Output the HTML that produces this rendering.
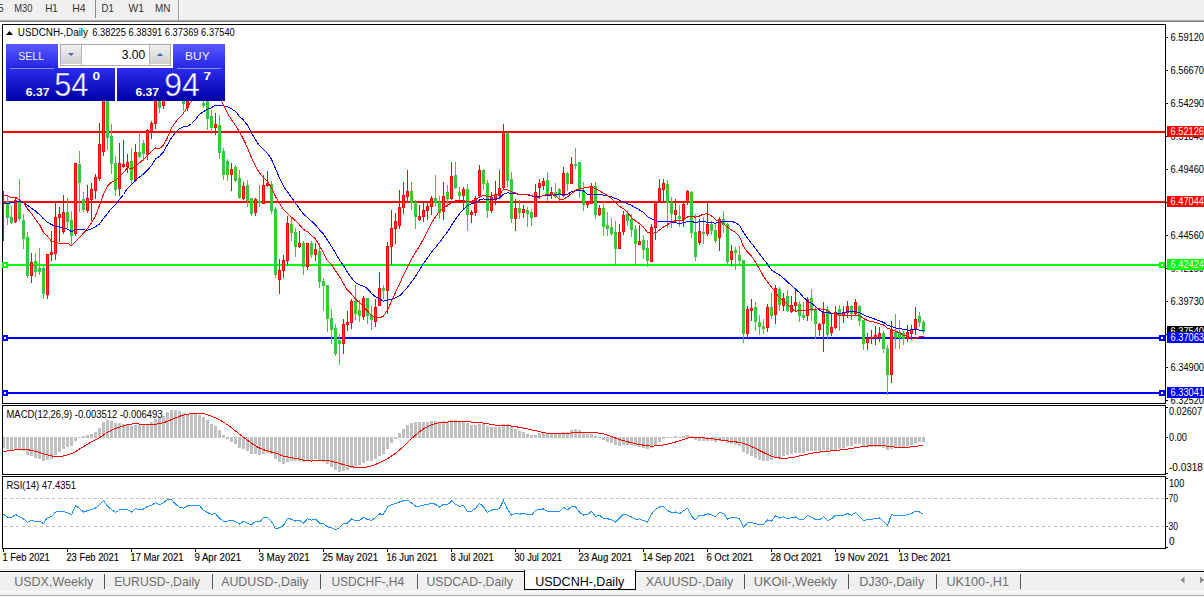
<!DOCTYPE html>
<html><head><meta charset="utf-8"><title>USDCNH-,Daily</title>
<style>
html,body{margin:0;padding:0;background:#fff;}
body{width:1204px;height:598px;overflow:hidden;position:relative;font-family:"Liberation Sans", sans-serif;}
svg{position:absolute;left:0;top:0;display:block;}
text{font-family:"Liberation Sans", sans-serif;}
</style></head><body>
<svg width="1204" height="598" viewBox="0 0 1204 598">
<defs>
<linearGradient id="gbtn" x1="0" y1="0" x2="0" y2="1"><stop offset="0" stop-color="#5b5bff"/><stop offset="1" stop-color="#2424e6"/></linearGradient>
<linearGradient id="gprice" x1="0" y1="0" x2="0" y2="1"><stop offset="0" stop-color="#2c2cee"/><stop offset="1" stop-color="#0000a8"/></linearGradient>
<linearGradient id="gspin" x1="0" y1="0" x2="0" y2="1"><stop offset="0" stop-color="#f2f2f2"/><stop offset="1" stop-color="#cfcfcf"/></linearGradient>
<pattern id="dots" width="2" height="2" patternUnits="userSpaceOnUse"><rect width="2" height="2" fill="#f7f7f7"/><rect width="1" height="1" fill="#e6e6e6"/><rect x="1" y="1" width="1" height="1" fill="#e6e6e6"/></pattern>
</defs>

<rect x="0" y="0" width="1204" height="20" fill="#f0f0f0"/>
<rect x="0" y="20" width="1204" height="1" fill="#a9a9a9"/><rect x="0" y="21" width="1204" height="1" fill="#7d7d7d"/>
<rect x="96" y="0" width="24" height="18" fill="url(#dots)"/><rect x="95" y="0" width="1" height="18" fill="#8a8a8a"/>
<rect x="178" y="0" width="1" height="20" fill="#9a9a9a"/><rect x="179" y="0" width="1" height="20" fill="#ffffff"/>
<text x="-2" y="12" font-size="10.3" fill="#333">5</text>
<text x="14.3" y="12" font-size="10.3" fill="#333" textLength="18.2" lengthAdjust="spacingAndGlyphs">M30</text>
<text x="45.2" y="12" font-size="10.3" fill="#333" textLength="12.6" lengthAdjust="spacingAndGlyphs">H1</text>
<text x="72.2" y="12" font-size="10.3" fill="#333" textLength="13.4" lengthAdjust="spacingAndGlyphs">H4</text>
<text x="101.5" y="12" font-size="10.3" fill="#333" textLength="12.4" lengthAdjust="spacingAndGlyphs">D1</text>
<text x="128.5" y="12" font-size="10.3" fill="#333" textLength="15.4" lengthAdjust="spacingAndGlyphs">W1</text>
<text x="155.1" y="12" font-size="10.3" fill="#333" textLength="15.4" lengthAdjust="spacingAndGlyphs">MN</text>
<g shape-rendering="crispEdges"><rect x="2" y="24" width="1164" height="1" fill="#000"/><rect x="2" y="403" width="1164" height="1" fill="#000"/><rect x="2" y="24" width="1" height="380" fill="#000"/><rect x="1165" y="24" width="1" height="380" fill="#000"/><rect x="2" y="405" width="1164" height="1" fill="#000"/><rect x="2" y="474" width="1164" height="1" fill="#000"/><rect x="2" y="405" width="1" height="70" fill="#000"/><rect x="1165" y="405" width="1" height="70" fill="#000"/><rect x="2" y="476" width="1164" height="1" fill="#000"/><rect x="2" y="548" width="1164" height="1" fill="#000"/><rect x="2" y="476" width="1" height="73" fill="#000"/><rect x="1165" y="476" width="1" height="73" fill="#000"/></g>
<clipPath id="cmain"><rect x="3" y="25" width="1162" height="378"/></clipPath>
<g clip-path="url(#cmain)" shape-rendering="crispEdges">
<rect x="3" y="131" width="1162" height="2" fill="#ff0000"/>
<rect x="3" y="201" width="1162" height="2" fill="#ff0000"/>
<rect x="3" y="264" width="1162" height="2" fill="#00ff00"/>
<rect x="3" y="337" width="1162" height="2" fill="#0000ff"/>
<rect x="3" y="392" width="1162" height="2" fill="#0000ff"/>
<rect x="3" y="191" width="1" height="50" fill="#ff0000"/>
<rect x="7" y="196" width="1" height="29" fill="#32cd32"/><rect x="6" y="202" width="3" height="16" fill="#32cd32"/>
<rect x="11" y="206" width="1" height="18" fill="#32cd32"/><rect x="10" y="217" width="3" height="6" fill="#32cd32"/>
<rect x="15" y="198" width="1" height="25" fill="#ff0000"/><rect x="14" y="200" width="3" height="22" fill="#ff0000"/>
<rect x="15" y="201" width="1" height="20" fill="#ff4500"/>
<rect x="19" y="179" width="1" height="42" fill="#32cd32"/><rect x="18" y="201" width="3" height="18" fill="#32cd32"/>
<rect x="23" y="214" width="1" height="35" fill="#32cd32"/><rect x="22" y="220" width="3" height="19" fill="#32cd32"/>
<rect x="27" y="232" width="1" height="46" fill="#32cd32"/><rect x="26" y="237" width="3" height="39" fill="#32cd32"/>
<rect x="31" y="253" width="1" height="30" fill="#ff0000"/><rect x="30" y="262" width="3" height="14" fill="#ff0000"/>
<rect x="31" y="263" width="1" height="12" fill="#ff4500"/>
<rect x="35" y="253" width="1" height="24" fill="#32cd32"/><rect x="34" y="261" width="3" height="11" fill="#32cd32"/>
<rect x="39" y="248" width="1" height="27" fill="#32cd32"/><rect x="38" y="268" width="3" height="4" fill="#32cd32"/>
<rect x="43" y="264" width="1" height="35" fill="#32cd32"/><rect x="42" y="268" width="3" height="26" fill="#32cd32"/>
<rect x="47" y="254" width="1" height="45" fill="#ff0000"/><rect x="46" y="254" width="3" height="41" fill="#ff0000"/>
<rect x="47" y="255" width="1" height="39" fill="#ff4500"/>
<rect x="51" y="231" width="1" height="30" fill="#ff0000"/><rect x="50" y="252" width="3" height="3" fill="#ff0000"/>
<rect x="51" y="253" width="1" height="1" fill="#ff4500"/>
<rect x="55" y="203" width="1" height="57" fill="#ff0000"/><rect x="54" y="217" width="3" height="37" fill="#ff0000"/>
<rect x="55" y="218" width="1" height="35" fill="#ff4500"/>
<rect x="59" y="207" width="1" height="35" fill="#ff0000"/><rect x="58" y="214" width="3" height="4" fill="#ff0000"/>
<rect x="59" y="215" width="1" height="2" fill="#ff4500"/>
<rect x="63" y="195" width="1" height="39" fill="#ff0000"/><rect x="62" y="212" width="3" height="20" fill="#ff0000"/>
<rect x="63" y="213" width="1" height="18" fill="#ff4500"/>
<rect x="67" y="198" width="1" height="30" fill="#32cd32"/><rect x="66" y="212" width="3" height="10" fill="#32cd32"/>
<rect x="71" y="211" width="1" height="34" fill="#32cd32"/><rect x="70" y="220" width="3" height="16" fill="#32cd32"/>
<rect x="75" y="163" width="1" height="73" fill="#ff0000"/><rect x="74" y="163" width="3" height="71" fill="#ff0000"/>
<rect x="75" y="164" width="1" height="69" fill="#ff4500"/>
<rect x="79" y="151" width="1" height="61" fill="#32cd32"/><rect x="78" y="164" width="3" height="19" fill="#32cd32"/>
<rect x="83" y="192" width="1" height="20" fill="#32cd32"/><rect x="82" y="199" width="3" height="11" fill="#32cd32"/>
<rect x="87" y="185" width="1" height="28" fill="#ff0000"/><rect x="86" y="198" width="3" height="13" fill="#ff0000"/>
<rect x="87" y="199" width="1" height="11" fill="#ff4500"/>
<rect x="91" y="183" width="1" height="38" fill="#ff0000"/><rect x="90" y="189" width="3" height="11" fill="#ff0000"/>
<rect x="91" y="190" width="1" height="9" fill="#ff4500"/>
<rect x="95" y="174" width="1" height="25" fill="#ff0000"/><rect x="94" y="177" width="3" height="14" fill="#ff0000"/>
<rect x="95" y="178" width="1" height="12" fill="#ff4500"/>
<rect x="99" y="123" width="1" height="58" fill="#ff0000"/><rect x="98" y="144" width="3" height="35" fill="#ff0000"/>
<rect x="99" y="145" width="1" height="33" fill="#ff4500"/>
<rect x="103" y="96" width="1" height="60" fill="#ff0000"/><rect x="102" y="98" width="3" height="54" fill="#ff0000"/>
<rect x="103" y="99" width="1" height="52" fill="#ff4500"/>
<rect x="107" y="92" width="1" height="58" fill="#32cd32"/><rect x="106" y="95" width="3" height="43" fill="#32cd32"/>
<rect x="111" y="124" width="1" height="50" fill="#32cd32"/><rect x="110" y="136" width="3" height="28" fill="#32cd32"/>
<rect x="115" y="156" width="1" height="40" fill="#32cd32"/><rect x="114" y="163" width="3" height="27" fill="#32cd32"/>
<rect x="119" y="143" width="1" height="53" fill="#ff0000"/><rect x="118" y="163" width="3" height="26" fill="#ff0000"/>
<rect x="119" y="164" width="1" height="24" fill="#ff4500"/>
<rect x="123" y="140" width="1" height="28" fill="#ff0000"/><rect x="122" y="164" width="3" height="3" fill="#ff0000"/>
<rect x="123" y="165" width="1" height="1" fill="#ff4500"/>
<rect x="127" y="154" width="1" height="19" fill="#ff0000"/><rect x="126" y="162" width="3" height="5" fill="#ff0000"/>
<rect x="127" y="163" width="1" height="3" fill="#ff4500"/>
<rect x="131" y="148" width="1" height="36" fill="#32cd32"/><rect x="130" y="161" width="3" height="19" fill="#32cd32"/>
<rect x="135" y="144" width="1" height="38" fill="#ff0000"/><rect x="134" y="152" width="3" height="29" fill="#ff0000"/>
<rect x="135" y="153" width="1" height="27" fill="#ff4500"/>
<rect x="139" y="132" width="1" height="26" fill="#32cd32"/><rect x="138" y="152" width="3" height="5" fill="#32cd32"/>
<rect x="143" y="140" width="1" height="21" fill="#32cd32"/><rect x="142" y="143" width="3" height="11" fill="#32cd32"/>
<rect x="147" y="129" width="1" height="31" fill="#ff0000"/><rect x="146" y="130" width="3" height="25" fill="#ff0000"/>
<rect x="147" y="131" width="1" height="23" fill="#ff4500"/>
<rect x="151" y="121" width="1" height="18" fill="#ff0000"/><rect x="150" y="123" width="3" height="9" fill="#ff0000"/>
<rect x="151" y="124" width="1" height="7" fill="#ff4500"/>
<rect x="155" y="92" width="1" height="37" fill="#ff0000"/><rect x="154" y="96" width="3" height="28" fill="#ff0000"/>
<rect x="155" y="97" width="1" height="26" fill="#ff4500"/>
<rect x="159" y="88" width="1" height="25" fill="#32cd32"/><rect x="158" y="92" width="3" height="16" fill="#32cd32"/>
<rect x="163" y="86" width="1" height="23" fill="#ff0000"/><rect x="162" y="90" width="3" height="16" fill="#ff0000"/>
<rect x="163" y="91" width="1" height="14" fill="#ff4500"/>
<rect x="167" y="50" width="1" height="43" fill="#ff0000"/><rect x="166" y="55" width="3" height="34" fill="#ff0000"/>
<rect x="167" y="56" width="1" height="32" fill="#ff4500"/>
<rect x="171" y="44" width="1" height="19" fill="#32cd32"/><rect x="170" y="48" width="3" height="8" fill="#32cd32"/>
<rect x="175" y="52" width="1" height="33" fill="#32cd32"/><rect x="174" y="56" width="3" height="24" fill="#32cd32"/>
<rect x="179" y="76" width="1" height="25" fill="#32cd32"/><rect x="178" y="80" width="3" height="21" fill="#32cd32"/>
<rect x="183" y="86" width="1" height="25" fill="#32cd32"/><rect x="182" y="90" width="3" height="14" fill="#32cd32"/>
<rect x="187" y="82" width="1" height="29" fill="#ff0000"/><rect x="186" y="86" width="3" height="22" fill="#ff0000"/>
<rect x="187" y="87" width="1" height="20" fill="#ff4500"/>
<rect x="191" y="72" width="1" height="21" fill="#ff0000"/><rect x="190" y="78" width="3" height="11" fill="#ff0000"/>
<rect x="191" y="79" width="1" height="9" fill="#ff4500"/>
<rect x="195" y="66" width="1" height="19" fill="#32cd32"/><rect x="194" y="70" width="3" height="9" fill="#32cd32"/>
<rect x="199" y="72" width="1" height="17" fill="#32cd32"/><rect x="198" y="76" width="3" height="6" fill="#32cd32"/>
<rect x="203" y="100" width="1" height="8" fill="#32cd32"/><rect x="202" y="103" width="3" height="3" fill="#32cd32"/>
<rect x="207" y="98" width="1" height="32" fill="#32cd32"/><rect x="206" y="100" width="3" height="19" fill="#32cd32"/>
<rect x="211" y="110" width="1" height="24" fill="#32cd32"/><rect x="210" y="116" width="3" height="12" fill="#32cd32"/>
<rect x="215" y="113" width="1" height="22" fill="#ff0000"/><rect x="214" y="124" width="3" height="4" fill="#ff0000"/>
<rect x="215" y="125" width="1" height="2" fill="#ff4500"/>
<rect x="219" y="115" width="1" height="44" fill="#32cd32"/><rect x="218" y="125" width="3" height="28" fill="#32cd32"/>
<rect x="223" y="148" width="1" height="32" fill="#32cd32"/><rect x="222" y="151" width="3" height="24" fill="#32cd32"/>
<rect x="227" y="159" width="1" height="22" fill="#32cd32"/><rect x="226" y="161" width="3" height="14" fill="#32cd32"/>
<rect x="231" y="163" width="1" height="28" fill="#ff0000"/><rect x="230" y="169" width="3" height="6" fill="#ff0000"/>
<rect x="231" y="170" width="1" height="4" fill="#ff4500"/>
<rect x="235" y="165" width="1" height="17" fill="#32cd32"/><rect x="234" y="167" width="3" height="14" fill="#32cd32"/>
<rect x="239" y="170" width="1" height="29" fill="#32cd32"/><rect x="238" y="178" width="3" height="20" fill="#32cd32"/>
<rect x="243" y="182" width="1" height="18" fill="#ff0000"/><rect x="242" y="186" width="3" height="13" fill="#ff0000"/>
<rect x="243" y="187" width="1" height="11" fill="#ff4500"/>
<rect x="247" y="180" width="1" height="27" fill="#32cd32"/><rect x="246" y="185" width="3" height="16" fill="#32cd32"/>
<rect x="251" y="198" width="1" height="18" fill="#32cd32"/><rect x="250" y="198" width="3" height="16" fill="#32cd32"/>
<rect x="255" y="198" width="1" height="18" fill="#ff0000"/><rect x="254" y="199" width="3" height="14" fill="#ff0000"/>
<rect x="255" y="200" width="1" height="12" fill="#ff4500"/>
<rect x="259" y="185" width="1" height="22" fill="#32cd32"/><rect x="258" y="201" width="3" height="2" fill="#32cd32"/>
<rect x="263" y="175" width="1" height="29" fill="#ff0000"/><rect x="262" y="185" width="3" height="19" fill="#ff0000"/>
<rect x="263" y="186" width="1" height="17" fill="#ff4500"/>
<rect x="267" y="171" width="1" height="16" fill="#ff0000"/><rect x="266" y="183" width="3" height="3" fill="#ff0000"/>
<rect x="267" y="184" width="1" height="1" fill="#ff4500"/>
<rect x="271" y="181" width="1" height="33" fill="#32cd32"/><rect x="270" y="184" width="3" height="27" fill="#32cd32"/>
<rect x="275" y="207" width="1" height="71" fill="#32cd32"/><rect x="274" y="209" width="3" height="66" fill="#32cd32"/>
<rect x="279" y="259" width="1" height="35" fill="#ff0000"/><rect x="278" y="270" width="3" height="10" fill="#ff0000"/>
<rect x="279" y="271" width="1" height="8" fill="#ff4500"/>
<rect x="283" y="255" width="1" height="23" fill="#ff0000"/><rect x="282" y="260" width="3" height="11" fill="#ff0000"/>
<rect x="283" y="261" width="1" height="9" fill="#ff4500"/>
<rect x="287" y="216" width="1" height="49" fill="#ff0000"/><rect x="286" y="223" width="3" height="38" fill="#ff0000"/>
<rect x="287" y="224" width="1" height="36" fill="#ff4500"/>
<rect x="291" y="218" width="1" height="23" fill="#32cd32"/><rect x="290" y="224" width="3" height="9" fill="#32cd32"/>
<rect x="295" y="228" width="1" height="29" fill="#32cd32"/><rect x="294" y="232" width="3" height="15" fill="#32cd32"/>
<rect x="299" y="231" width="1" height="17" fill="#ff0000"/><rect x="298" y="243" width="3" height="4" fill="#ff0000"/>
<rect x="299" y="244" width="1" height="2" fill="#ff4500"/>
<rect x="303" y="241" width="1" height="34" fill="#32cd32"/><rect x="302" y="243" width="3" height="24" fill="#32cd32"/>
<rect x="307" y="243" width="1" height="27" fill="#ff0000"/><rect x="306" y="243" width="3" height="24" fill="#ff0000"/>
<rect x="307" y="244" width="1" height="22" fill="#ff4500"/>
<rect x="311" y="241" width="1" height="17" fill="#32cd32"/><rect x="310" y="243" width="3" height="12" fill="#32cd32"/>
<rect x="315" y="243" width="1" height="18" fill="#ff0000"/><rect x="314" y="249" width="3" height="6" fill="#ff0000"/>
<rect x="315" y="250" width="1" height="4" fill="#ff4500"/>
<rect x="319" y="243" width="1" height="45" fill="#32cd32"/><rect x="318" y="251" width="3" height="31" fill="#32cd32"/>
<rect x="323" y="278" width="1" height="33" fill="#32cd32"/><rect x="322" y="281" width="3" height="5" fill="#32cd32"/>
<rect x="327" y="285" width="1" height="47" fill="#32cd32"/><rect x="326" y="285" width="3" height="34" fill="#32cd32"/>
<rect x="331" y="309" width="1" height="35" fill="#32cd32"/><rect x="330" y="318" width="3" height="12" fill="#32cd32"/>
<rect x="335" y="324" width="1" height="32" fill="#32cd32"/><rect x="334" y="328" width="3" height="26" fill="#32cd32"/>
<rect x="339" y="334" width="1" height="31" fill="#32cd32"/><rect x="338" y="340" width="3" height="4" fill="#32cd32"/>
<rect x="343" y="319" width="1" height="35" fill="#ff0000"/><rect x="342" y="324" width="3" height="20" fill="#ff0000"/>
<rect x="343" y="325" width="1" height="18" fill="#ff4500"/>
<rect x="347" y="311" width="1" height="20" fill="#ff0000"/><rect x="346" y="322" width="3" height="3" fill="#ff0000"/>
<rect x="347" y="323" width="1" height="1" fill="#ff4500"/>
<rect x="351" y="299" width="1" height="30" fill="#ff0000"/><rect x="350" y="301" width="3" height="22" fill="#ff0000"/>
<rect x="351" y="302" width="1" height="20" fill="#ff4500"/>
<rect x="355" y="285" width="1" height="35" fill="#32cd32"/><rect x="354" y="301" width="3" height="13" fill="#32cd32"/>
<rect x="359" y="300" width="1" height="22" fill="#32cd32"/><rect x="358" y="310" width="3" height="6" fill="#32cd32"/>
<rect x="363" y="296" width="1" height="24" fill="#ff0000"/><rect x="362" y="298" width="3" height="19" fill="#ff0000"/>
<rect x="363" y="299" width="1" height="17" fill="#ff4500"/>
<rect x="367" y="298" width="1" height="26" fill="#32cd32"/><rect x="366" y="298" width="3" height="18" fill="#32cd32"/>
<rect x="371" y="306" width="1" height="24" fill="#32cd32"/><rect x="370" y="315" width="3" height="5" fill="#32cd32"/>
<rect x="375" y="299" width="1" height="28" fill="#ff0000"/><rect x="374" y="307" width="3" height="15" fill="#ff0000"/>
<rect x="375" y="308" width="1" height="13" fill="#ff4500"/>
<rect x="379" y="272" width="1" height="34" fill="#ff0000"/><rect x="378" y="288" width="3" height="18" fill="#ff0000"/>
<rect x="379" y="289" width="1" height="16" fill="#ff4500"/>
<rect x="383" y="285" width="1" height="14" fill="#32cd32"/><rect x="382" y="288" width="3" height="3" fill="#32cd32"/>
<rect x="387" y="242" width="1" height="72" fill="#ff0000"/><rect x="386" y="246" width="3" height="45" fill="#ff0000"/>
<rect x="387" y="247" width="1" height="43" fill="#ff4500"/>
<rect x="391" y="210" width="1" height="55" fill="#ff0000"/><rect x="390" y="228" width="3" height="19" fill="#ff0000"/>
<rect x="391" y="229" width="1" height="17" fill="#ff4500"/>
<rect x="395" y="213" width="1" height="31" fill="#ff0000"/><rect x="394" y="221" width="3" height="8" fill="#ff0000"/>
<rect x="395" y="222" width="1" height="6" fill="#ff4500"/>
<rect x="399" y="190" width="1" height="39" fill="#ff0000"/><rect x="398" y="207" width="3" height="19" fill="#ff0000"/>
<rect x="399" y="208" width="1" height="17" fill="#ff4500"/>
<rect x="403" y="182" width="1" height="32" fill="#ff0000"/><rect x="402" y="195" width="3" height="13" fill="#ff0000"/>
<rect x="403" y="196" width="1" height="11" fill="#ff4500"/>
<rect x="407" y="170" width="1" height="33" fill="#ff0000"/><rect x="406" y="191" width="3" height="6" fill="#ff0000"/>
<rect x="407" y="192" width="1" height="4" fill="#ff4500"/>
<rect x="411" y="182" width="1" height="28" fill="#32cd32"/><rect x="410" y="191" width="3" height="12" fill="#32cd32"/>
<rect x="415" y="200" width="1" height="29" fill="#32cd32"/><rect x="414" y="202" width="3" height="15" fill="#32cd32"/>
<rect x="419" y="205" width="1" height="16" fill="#ff0000"/><rect x="418" y="216" width="3" height="4" fill="#ff0000"/>
<rect x="419" y="217" width="1" height="2" fill="#ff4500"/>
<rect x="423" y="203" width="1" height="19" fill="#ff0000"/><rect x="422" y="210" width="3" height="7" fill="#ff0000"/>
<rect x="423" y="211" width="1" height="5" fill="#ff4500"/>
<rect x="427" y="203" width="1" height="17" fill="#ff0000"/><rect x="426" y="206" width="3" height="5" fill="#ff0000"/>
<rect x="427" y="207" width="1" height="3" fill="#ff4500"/>
<rect x="431" y="196" width="1" height="19" fill="#ff0000"/><rect x="430" y="198" width="3" height="9" fill="#ff0000"/>
<rect x="431" y="199" width="1" height="7" fill="#ff4500"/>
<rect x="435" y="175" width="1" height="31" fill="#32cd32"/><rect x="434" y="198" width="3" height="5" fill="#32cd32"/>
<rect x="439" y="196" width="1" height="23" fill="#32cd32"/><rect x="438" y="202" width="3" height="11" fill="#32cd32"/>
<rect x="443" y="182" width="1" height="38" fill="#ff0000"/><rect x="442" y="196" width="3" height="16" fill="#ff0000"/>
<rect x="443" y="197" width="1" height="14" fill="#ff4500"/>
<rect x="447" y="185" width="1" height="22" fill="#32cd32"/><rect x="446" y="192" width="3" height="7" fill="#32cd32"/>
<rect x="451" y="162" width="1" height="38" fill="#ff0000"/><rect x="450" y="176" width="3" height="23" fill="#ff0000"/>
<rect x="451" y="177" width="1" height="21" fill="#ff4500"/>
<rect x="455" y="162" width="1" height="27" fill="#32cd32"/><rect x="454" y="175" width="3" height="13" fill="#32cd32"/>
<rect x="459" y="187" width="1" height="14" fill="#32cd32"/><rect x="458" y="192" width="3" height="4" fill="#32cd32"/>
<rect x="463" y="187" width="1" height="21" fill="#ff0000"/><rect x="462" y="189" width="3" height="7" fill="#ff0000"/>
<rect x="463" y="190" width="1" height="5" fill="#ff4500"/>
<rect x="467" y="184" width="1" height="47" fill="#32cd32"/><rect x="466" y="189" width="3" height="26" fill="#32cd32"/>
<rect x="471" y="210" width="1" height="13" fill="#ff0000"/><rect x="470" y="212" width="3" height="3" fill="#ff0000"/>
<rect x="471" y="213" width="1" height="1" fill="#ff4500"/>
<rect x="475" y="196" width="1" height="20" fill="#ff0000"/><rect x="474" y="198" width="3" height="15" fill="#ff0000"/>
<rect x="475" y="199" width="1" height="13" fill="#ff4500"/>
<rect x="479" y="165" width="1" height="32" fill="#ff0000"/><rect x="478" y="170" width="3" height="26" fill="#ff0000"/>
<rect x="479" y="171" width="1" height="24" fill="#ff4500"/>
<rect x="483" y="169" width="1" height="21" fill="#32cd32"/><rect x="482" y="170" width="3" height="14" fill="#32cd32"/>
<rect x="487" y="180" width="1" height="38" fill="#32cd32"/><rect x="486" y="183" width="3" height="28" fill="#32cd32"/>
<rect x="491" y="192" width="1" height="21" fill="#ff0000"/><rect x="490" y="197" width="3" height="14" fill="#ff0000"/>
<rect x="491" y="198" width="1" height="12" fill="#ff4500"/>
<rect x="495" y="181" width="1" height="24" fill="#ff0000"/><rect x="494" y="194" width="3" height="5" fill="#ff0000"/>
<rect x="495" y="195" width="1" height="3" fill="#ff4500"/>
<rect x="499" y="170" width="1" height="27" fill="#ff0000"/><rect x="498" y="188" width="3" height="8" fill="#ff0000"/>
<rect x="499" y="189" width="1" height="6" fill="#ff4500"/>
<rect x="503" y="124" width="1" height="66" fill="#ff0000"/><rect x="502" y="132" width="3" height="56" fill="#ff0000"/>
<rect x="503" y="133" width="1" height="54" fill="#ff4500"/>
<rect x="507" y="132" width="1" height="55" fill="#32cd32"/><rect x="506" y="133" width="3" height="48" fill="#32cd32"/>
<rect x="511" y="172" width="1" height="51" fill="#32cd32"/><rect x="510" y="179" width="3" height="40" fill="#32cd32"/>
<rect x="515" y="199" width="1" height="32" fill="#ff0000"/><rect x="514" y="208" width="3" height="11" fill="#ff0000"/>
<rect x="515" y="209" width="1" height="9" fill="#ff4500"/>
<rect x="519" y="200" width="1" height="19" fill="#32cd32"/><rect x="518" y="208" width="3" height="5" fill="#32cd32"/>
<rect x="523" y="205" width="1" height="13" fill="#ff0000"/><rect x="522" y="209" width="3" height="4" fill="#ff0000"/>
<rect x="523" y="210" width="1" height="2" fill="#ff4500"/>
<rect x="527" y="207" width="1" height="20" fill="#32cd32"/><rect x="526" y="210" width="3" height="4" fill="#32cd32"/>
<rect x="531" y="209" width="1" height="17" fill="#32cd32"/><rect x="530" y="212" width="3" height="6" fill="#32cd32"/>
<rect x="535" y="184" width="1" height="33" fill="#ff0000"/><rect x="534" y="192" width="3" height="25" fill="#ff0000"/>
<rect x="535" y="193" width="1" height="23" fill="#ff4500"/>
<rect x="539" y="179" width="1" height="20" fill="#ff0000"/><rect x="538" y="183" width="3" height="5" fill="#ff0000"/>
<rect x="539" y="184" width="1" height="3" fill="#ff4500"/>
<rect x="543" y="178" width="1" height="12" fill="#ff0000"/><rect x="542" y="181" width="3" height="5" fill="#ff0000"/>
<rect x="543" y="182" width="1" height="3" fill="#ff4500"/>
<rect x="547" y="172" width="1" height="29" fill="#32cd32"/><rect x="546" y="180" width="3" height="15" fill="#32cd32"/>
<rect x="551" y="187" width="1" height="12" fill="#ff0000"/><rect x="550" y="192" width="3" height="3" fill="#ff0000"/>
<rect x="551" y="193" width="1" height="1" fill="#ff4500"/>
<rect x="555" y="183" width="1" height="15" fill="#32cd32"/><rect x="554" y="192" width="3" height="5" fill="#32cd32"/>
<rect x="559" y="188" width="1" height="13" fill="#32cd32"/><rect x="558" y="189" width="3" height="6" fill="#32cd32"/>
<rect x="563" y="167" width="1" height="30" fill="#ff0000"/><rect x="562" y="173" width="3" height="23" fill="#ff0000"/>
<rect x="563" y="174" width="1" height="21" fill="#ff4500"/>
<rect x="567" y="172" width="1" height="19" fill="#32cd32"/><rect x="566" y="173" width="3" height="11" fill="#32cd32"/>
<rect x="571" y="157" width="1" height="27" fill="#ff0000"/><rect x="570" y="164" width="3" height="20" fill="#ff0000"/>
<rect x="571" y="165" width="1" height="18" fill="#ff4500"/>
<rect x="575" y="148" width="1" height="21" fill="#32cd32"/><rect x="574" y="164" width="3" height="2" fill="#32cd32"/>
<rect x="579" y="162" width="1" height="36" fill="#32cd32"/><rect x="578" y="162" width="3" height="29" fill="#32cd32"/>
<rect x="583" y="182" width="1" height="29" fill="#32cd32"/><rect x="582" y="190" width="3" height="15" fill="#32cd32"/>
<rect x="587" y="201" width="1" height="7" fill="#ff0000"/><rect x="586" y="202" width="3" height="3" fill="#ff0000"/>
<rect x="587" y="203" width="1" height="1" fill="#ff4500"/>
<rect x="591" y="183" width="1" height="21" fill="#ff0000"/><rect x="590" y="186" width="3" height="18" fill="#ff0000"/>
<rect x="591" y="187" width="1" height="16" fill="#ff4500"/>
<rect x="595" y="182" width="1" height="37" fill="#32cd32"/><rect x="594" y="186" width="3" height="29" fill="#32cd32"/>
<rect x="599" y="205" width="1" height="11" fill="#ff0000"/><rect x="598" y="208" width="3" height="7" fill="#ff0000"/>
<rect x="599" y="209" width="1" height="5" fill="#ff4500"/>
<rect x="603" y="201" width="1" height="35" fill="#32cd32"/><rect x="602" y="208" width="3" height="19" fill="#32cd32"/>
<rect x="607" y="212" width="1" height="24" fill="#32cd32"/><rect x="606" y="225" width="3" height="4" fill="#32cd32"/>
<rect x="611" y="218" width="1" height="18" fill="#32cd32"/><rect x="610" y="227" width="3" height="7" fill="#32cd32"/>
<rect x="615" y="221" width="1" height="45" fill="#32cd32"/><rect x="614" y="232" width="3" height="17" fill="#32cd32"/>
<rect x="619" y="224" width="1" height="25" fill="#ff0000"/><rect x="618" y="232" width="3" height="17" fill="#ff0000"/>
<rect x="619" y="233" width="1" height="15" fill="#ff4500"/>
<rect x="623" y="211" width="1" height="24" fill="#ff0000"/><rect x="622" y="215" width="3" height="17" fill="#ff0000"/>
<rect x="623" y="216" width="1" height="15" fill="#ff4500"/>
<rect x="627" y="210" width="1" height="16" fill="#32cd32"/><rect x="626" y="214" width="3" height="7" fill="#32cd32"/>
<rect x="631" y="214" width="1" height="23" fill="#32cd32"/><rect x="630" y="219" width="3" height="11" fill="#32cd32"/>
<rect x="635" y="225" width="1" height="41" fill="#32cd32"/><rect x="634" y="229" width="3" height="15" fill="#32cd32"/>
<rect x="639" y="225" width="1" height="20" fill="#ff0000"/><rect x="638" y="241" width="3" height="4" fill="#ff0000"/>
<rect x="639" y="242" width="1" height="2" fill="#ff4500"/>
<rect x="643" y="235" width="1" height="24" fill="#32cd32"/><rect x="642" y="240" width="3" height="10" fill="#32cd32"/>
<rect x="647" y="240" width="1" height="27" fill="#32cd32"/><rect x="646" y="248" width="3" height="13" fill="#32cd32"/>
<rect x="651" y="224" width="1" height="38" fill="#ff0000"/><rect x="650" y="227" width="3" height="35" fill="#ff0000"/>
<rect x="651" y="228" width="1" height="33" fill="#ff4500"/>
<rect x="655" y="201" width="1" height="39" fill="#ff0000"/><rect x="654" y="202" width="3" height="26" fill="#ff0000"/>
<rect x="655" y="203" width="1" height="24" fill="#ff4500"/>
<rect x="659" y="179" width="1" height="24" fill="#ff0000"/><rect x="658" y="188" width="3" height="13" fill="#ff0000"/>
<rect x="659" y="189" width="1" height="11" fill="#ff4500"/>
<rect x="663" y="179" width="1" height="23" fill="#ff0000"/><rect x="662" y="183" width="3" height="7" fill="#ff0000"/>
<rect x="663" y="184" width="1" height="5" fill="#ff4500"/>
<rect x="667" y="180" width="1" height="48" fill="#32cd32"/><rect x="666" y="184" width="3" height="19" fill="#32cd32"/>
<rect x="671" y="197" width="1" height="31" fill="#32cd32"/><rect x="670" y="202" width="3" height="12" fill="#32cd32"/>
<rect x="675" y="199" width="1" height="24" fill="#ff0000"/><rect x="674" y="210" width="3" height="5" fill="#ff0000"/>
<rect x="675" y="211" width="1" height="3" fill="#ff4500"/>
<rect x="679" y="205" width="1" height="22" fill="#32cd32"/><rect x="678" y="216" width="3" height="3" fill="#32cd32"/>
<rect x="683" y="203" width="1" height="24" fill="#ff0000"/><rect x="682" y="204" width="3" height="15" fill="#ff0000"/>
<rect x="683" y="205" width="1" height="13" fill="#ff4500"/>
<rect x="687" y="190" width="1" height="15" fill="#ff0000"/><rect x="686" y="191" width="3" height="12" fill="#ff0000"/>
<rect x="687" y="192" width="1" height="10" fill="#ff4500"/>
<rect x="691" y="191" width="1" height="47" fill="#32cd32"/><rect x="690" y="192" width="3" height="41" fill="#32cd32"/>
<rect x="695" y="214" width="1" height="47" fill="#32cd32"/><rect x="694" y="232" width="3" height="25" fill="#32cd32"/>
<rect x="699" y="219" width="1" height="26" fill="#ff0000"/><rect x="698" y="231" width="3" height="12" fill="#ff0000"/>
<rect x="699" y="232" width="1" height="10" fill="#ff4500"/>
<rect x="703" y="217" width="1" height="27" fill="#32cd32"/><rect x="702" y="232" width="3" height="2" fill="#32cd32"/>
<rect x="707" y="202" width="1" height="34" fill="#ff0000"/><rect x="706" y="224" width="3" height="10" fill="#ff0000"/>
<rect x="707" y="225" width="1" height="8" fill="#ff4500"/>
<rect x="711" y="221" width="1" height="14" fill="#32cd32"/><rect x="710" y="224" width="3" height="7" fill="#32cd32"/>
<rect x="715" y="223" width="1" height="20" fill="#32cd32"/><rect x="714" y="230" width="3" height="11" fill="#32cd32"/>
<rect x="719" y="217" width="1" height="34" fill="#ff0000"/><rect x="718" y="219" width="3" height="19" fill="#ff0000"/>
<rect x="719" y="220" width="1" height="17" fill="#ff4500"/>
<rect x="723" y="211" width="1" height="22" fill="#32cd32"/><rect x="722" y="219" width="3" height="6" fill="#32cd32"/>
<rect x="727" y="223" width="1" height="42" fill="#32cd32"/><rect x="726" y="224" width="3" height="38" fill="#32cd32"/>
<rect x="731" y="245" width="1" height="21" fill="#ff0000"/><rect x="730" y="251" width="3" height="9" fill="#ff0000"/>
<rect x="731" y="252" width="1" height="7" fill="#ff4500"/>
<rect x="735" y="247" width="1" height="23" fill="#32cd32"/><rect x="734" y="250" width="3" height="3" fill="#32cd32"/>
<rect x="739" y="246" width="1" height="20" fill="#32cd32"/><rect x="738" y="255" width="3" height="6" fill="#32cd32"/>
<rect x="743" y="260" width="1" height="83" fill="#32cd32"/><rect x="742" y="260" width="3" height="74" fill="#32cd32"/>
<rect x="747" y="306" width="1" height="31" fill="#ff0000"/><rect x="746" y="309" width="3" height="25" fill="#ff0000"/>
<rect x="747" y="310" width="1" height="23" fill="#ff4500"/>
<rect x="751" y="299" width="1" height="22" fill="#ff0000"/><rect x="750" y="308" width="3" height="3" fill="#ff0000"/>
<rect x="751" y="309" width="1" height="1" fill="#ff4500"/>
<rect x="755" y="302" width="1" height="29" fill="#32cd32"/><rect x="754" y="307" width="3" height="15" fill="#32cd32"/>
<rect x="759" y="315" width="1" height="20" fill="#32cd32"/><rect x="758" y="322" width="3" height="5" fill="#32cd32"/>
<rect x="763" y="319" width="1" height="15" fill="#32cd32"/><rect x="762" y="326" width="3" height="3" fill="#32cd32"/>
<rect x="767" y="304" width="1" height="28" fill="#ff0000"/><rect x="766" y="307" width="3" height="21" fill="#ff0000"/>
<rect x="767" y="308" width="1" height="19" fill="#ff4500"/>
<rect x="771" y="293" width="1" height="26" fill="#32cd32"/><rect x="770" y="307" width="3" height="9" fill="#32cd32"/>
<rect x="775" y="285" width="1" height="39" fill="#ff0000"/><rect x="774" y="288" width="3" height="27" fill="#ff0000"/>
<rect x="775" y="289" width="1" height="25" fill="#ff4500"/>
<rect x="779" y="287" width="1" height="24" fill="#32cd32"/><rect x="778" y="289" width="3" height="16" fill="#32cd32"/>
<rect x="783" y="293" width="1" height="18" fill="#ff0000"/><rect x="782" y="298" width="3" height="8" fill="#ff0000"/>
<rect x="783" y="299" width="1" height="6" fill="#ff4500"/>
<rect x="787" y="290" width="1" height="22" fill="#32cd32"/><rect x="786" y="296" width="3" height="15" fill="#32cd32"/>
<rect x="791" y="296" width="1" height="17" fill="#ff0000"/><rect x="790" y="305" width="3" height="7" fill="#ff0000"/>
<rect x="791" y="306" width="1" height="5" fill="#ff4500"/>
<rect x="795" y="289" width="1" height="23" fill="#ff0000"/><rect x="794" y="302" width="3" height="4" fill="#ff0000"/>
<rect x="795" y="303" width="1" height="2" fill="#ff4500"/>
<rect x="799" y="301" width="1" height="21" fill="#32cd32"/><rect x="798" y="304" width="3" height="12" fill="#32cd32"/>
<rect x="803" y="302" width="1" height="18" fill="#32cd32"/><rect x="802" y="315" width="3" height="3" fill="#32cd32"/>
<rect x="807" y="297" width="1" height="24" fill="#ff0000"/><rect x="806" y="299" width="3" height="17" fill="#ff0000"/>
<rect x="807" y="300" width="1" height="15" fill="#ff4500"/>
<rect x="811" y="289" width="1" height="32" fill="#32cd32"/><rect x="810" y="298" width="3" height="13" fill="#32cd32"/>
<rect x="815" y="307" width="1" height="32" fill="#32cd32"/><rect x="814" y="309" width="3" height="15" fill="#32cd32"/>
<rect x="819" y="323" width="1" height="13" fill="#ff0000"/><rect x="818" y="324" width="3" height="6" fill="#ff0000"/>
<rect x="819" y="325" width="1" height="4" fill="#ff4500"/>
<rect x="823" y="302" width="1" height="50" fill="#ff0000"/><rect x="822" y="312" width="3" height="12" fill="#ff0000"/>
<rect x="823" y="313" width="1" height="10" fill="#ff4500"/>
<rect x="827" y="306" width="1" height="33" fill="#32cd32"/><rect x="826" y="309" width="3" height="26" fill="#32cd32"/>
<rect x="831" y="314" width="1" height="22" fill="#ff0000"/><rect x="830" y="327" width="3" height="6" fill="#ff0000"/>
<rect x="831" y="328" width="1" height="4" fill="#ff4500"/>
<rect x="835" y="306" width="1" height="23" fill="#ff0000"/><rect x="834" y="312" width="3" height="16" fill="#ff0000"/>
<rect x="835" y="313" width="1" height="14" fill="#ff4500"/>
<rect x="839" y="305" width="1" height="26" fill="#32cd32"/><rect x="838" y="309" width="3" height="7" fill="#32cd32"/>
<rect x="843" y="306" width="1" height="17" fill="#ff0000"/><rect x="842" y="312" width="3" height="4" fill="#ff0000"/>
<rect x="843" y="313" width="1" height="2" fill="#ff4500"/>
<rect x="847" y="301" width="1" height="17" fill="#ff0000"/><rect x="846" y="306" width="3" height="7" fill="#ff0000"/>
<rect x="847" y="307" width="1" height="5" fill="#ff4500"/>
<rect x="851" y="305" width="1" height="15" fill="#32cd32"/><rect x="850" y="306" width="3" height="8" fill="#32cd32"/>
<rect x="855" y="299" width="1" height="17" fill="#ff0000"/><rect x="854" y="302" width="3" height="12" fill="#ff0000"/>
<rect x="855" y="303" width="1" height="10" fill="#ff4500"/>
<rect x="859" y="305" width="1" height="21" fill="#32cd32"/><rect x="858" y="306" width="3" height="15" fill="#32cd32"/>
<rect x="863" y="320" width="1" height="30" fill="#32cd32"/><rect x="862" y="320" width="3" height="24" fill="#32cd32"/>
<rect x="867" y="333" width="1" height="17" fill="#ff0000"/><rect x="866" y="338" width="3" height="5" fill="#ff0000"/>
<rect x="867" y="339" width="1" height="3" fill="#ff4500"/>
<rect x="871" y="330" width="1" height="14" fill="#ff0000"/><rect x="870" y="337" width="3" height="2" fill="#ff0000"/>
<rect x="875" y="326" width="1" height="19" fill="#ff0000"/><rect x="874" y="335" width="3" height="3" fill="#ff0000"/>
<rect x="875" y="336" width="1" height="1" fill="#ff4500"/>
<rect x="879" y="327" width="1" height="15" fill="#ff0000"/><rect x="878" y="333" width="3" height="5" fill="#ff0000"/>
<rect x="879" y="334" width="1" height="3" fill="#ff4500"/>
<rect x="883" y="331" width="1" height="22" fill="#32cd32"/><rect x="882" y="333" width="3" height="16" fill="#32cd32"/>
<rect x="887" y="345" width="1" height="50" fill="#32cd32"/><rect x="886" y="348" width="3" height="27" fill="#32cd32"/>
<rect x="891" y="321" width="1" height="62" fill="#ff0000"/><rect x="890" y="330" width="3" height="45" fill="#ff0000"/>
<rect x="891" y="331" width="1" height="43" fill="#ff4500"/>
<rect x="895" y="314" width="1" height="35" fill="#32cd32"/><rect x="894" y="332" width="3" height="6" fill="#32cd32"/>
<rect x="899" y="320" width="1" height="29" fill="#32cd32"/><rect x="898" y="332" width="3" height="6" fill="#32cd32"/>
<rect x="903" y="331" width="1" height="14" fill="#32cd32"/><rect x="902" y="333" width="3" height="6" fill="#32cd32"/>
<rect x="907" y="325" width="1" height="17" fill="#ff0000"/><rect x="906" y="332" width="3" height="7" fill="#ff0000"/>
<rect x="907" y="333" width="1" height="5" fill="#ff4500"/>
<rect x="911" y="325" width="1" height="15" fill="#ff0000"/><rect x="910" y="329" width="3" height="5" fill="#ff0000"/>
<rect x="911" y="330" width="1" height="3" fill="#ff4500"/>
<rect x="915" y="307" width="1" height="28" fill="#ff0000"/><rect x="914" y="319" width="3" height="10" fill="#ff0000"/>
<rect x="915" y="320" width="1" height="8" fill="#ff4500"/>
<rect x="919" y="312" width="1" height="15" fill="#32cd32"/><rect x="918" y="316" width="3" height="7" fill="#32cd32"/>
<rect x="923" y="320" width="1" height="15" fill="#32cd32"/><rect x="922" y="322" width="3" height="10" fill="#32cd32"/>
</g>
<polyline clip-path="url(#cmain)" points="3.5,203.80 7.5,203.53 11.5,202.65 15.5,201.96 19.5,201.28 23.5,202.79 27.5,205.22 31.5,208.26 35.5,210.89 39.5,214.75 43.5,218.81 47.5,222.26 51.5,224.56 55.5,226.25 59.5,226.75 63.5,228.20 67.5,229.03 71.5,231.57 75.5,229.64 79.5,229.67 83.5,229.93 87.5,230.21 91.5,228.88 95.5,226.74 99.5,224.07 103.5,218.36 107.5,213.55 111.5,208.21 115.5,204.74 119.5,199.60 123.5,194.50 127.5,188.26 131.5,184.69 135.5,179.93 139.5,177.02 143.5,174.12 147.5,170.21 151.5,165.55 155.5,158.93 159.5,156.26 163.5,151.88 167.5,144.55 171.5,137.74 175.5,132.50 179.5,128.83 183.5,126.88 187.5,126.31 191.5,123.50 195.5,119.45 199.5,114.31 203.5,111.55 207.5,109.36 211.5,107.69 215.5,105.07 219.5,105.07 223.5,105.93 227.5,106.93 231.5,108.79 235.5,111.50 239.5,116.31 243.5,120.07 247.5,125.31 251.5,132.83 255.5,139.69 259.5,145.55 263.5,149.60 267.5,153.40 271.5,159.31 275.5,168.64 279.5,177.79 283.5,186.31 287.5,191.93 291.5,197.36 295.5,203.02 299.5,208.69 303.5,214.12 307.5,217.40 311.5,221.21 315.5,225.02 319.5,229.83 323.5,234.02 327.5,240.31 331.5,246.45 335.5,253.12 339.5,259.98 343.5,265.79 347.5,272.31 351.5,277.93 355.5,282.83 359.5,284.79 363.5,286.12 367.5,288.74 371.5,293.31 375.5,296.88 379.5,298.88 383.5,301.12 387.5,300.17 391.5,299.45 395.5,297.88 399.5,295.88 403.5,291.79 407.5,287.31 411.5,281.79 415.5,276.40 419.5,269.88 423.5,263.55 427.5,257.93 431.5,252.02 435.5,247.31 439.5,242.50 443.5,236.83 447.5,232.07 451.5,225.45 455.5,219.17 459.5,213.83 463.5,209.12 467.5,205.50 471.5,203.88 475.5,202.45 479.5,200.02 483.5,198.88 487.5,199.60 491.5,199.88 495.5,199.50 499.5,198.17 503.5,194.17 507.5,192.74 511.5,193.31 515.5,193.79 519.5,194.26 523.5,194.12 527.5,194.93 531.5,195.83 535.5,196.60 539.5,196.40 543.5,195.74 547.5,195.98 551.5,194.93 555.5,194.17 559.5,193.98 563.5,194.12 567.5,194.12 571.5,191.93 575.5,190.40 579.5,190.21 583.5,190.98 587.5,194.31 591.5,194.60 595.5,194.40 599.5,194.40 603.5,195.07 607.5,195.98 611.5,196.93 615.5,198.40 619.5,200.31 623.5,201.83 627.5,203.69 631.5,205.36 635.5,207.79 639.5,209.93 643.5,212.55 647.5,216.69 651.5,218.79 655.5,220.60 659.5,221.69 663.5,221.36 667.5,221.26 671.5,221.79 675.5,222.93 679.5,223.12 683.5,222.93 687.5,221.26 691.5,221.45 695.5,222.55 699.5,221.74 703.5,221.79 707.5,222.21 711.5,222.69 715.5,223.21 719.5,222.07 723.5,221.26 727.5,221.83 731.5,221.40 735.5,222.60 739.5,225.36 743.5,232.26 747.5,238.26 751.5,243.31 755.5,248.45 759.5,253.98 763.5,259.21 767.5,264.12 771.5,270.02 775.5,272.69 779.5,274.98 783.5,278.17 787.5,281.83 791.5,285.69 795.5,289.12 799.5,292.69 803.5,297.36 807.5,300.93 811.5,303.26 815.5,306.69 819.5,310.12 823.5,312.60 827.5,312.64 831.5,313.50 835.5,313.69 839.5,313.40 843.5,312.74 847.5,311.69 851.5,311.98 855.5,311.36 859.5,312.88 863.5,314.74 867.5,316.64 871.5,317.93 875.5,319.36 879.5,320.83 883.5,322.40 887.5,325.12 891.5,326.60 895.5,327.88 899.5,328.55 903.5,329.21 907.5,330.17 911.5,329.93 915.5,329.55 919.5,330.02 923.5,330.79" fill="none" stroke="#0000ff" stroke-width="1" shape-rendering="crispEdges"/>
<polyline clip-path="url(#cmain)" points="3.5,195.57 7.5,195.65 11.5,197.95 15.5,197.40 19.5,200.00 23.5,202.45 27.5,209.13 31.5,213.30 35.5,219.69 39.5,224.50 43.5,232.47 47.5,236.07 51.5,241.11 55.5,242.07 59.5,243.64 63.5,243.29 67.5,243.21 71.5,245.71 75.5,241.79 79.5,237.79 83.5,233.07 87.5,228.50 91.5,222.64 95.5,215.93 99.5,205.29 103.5,194.14 107.5,185.93 111.5,182.07 115.5,180.29 119.5,176.79 123.5,172.71 127.5,167.50 131.5,168.64 135.5,166.50 139.5,162.71 143.5,159.50 147.5,155.29 151.5,151.43 155.5,148.00 159.5,148.64 163.5,145.29 167.5,137.57 171.5,128.00 175.5,122.00 179.5,117.43 183.5,113.21 187.5,106.57 191.5,101.29 195.5,95.71 199.5,90.57 203.5,88.79 207.5,88.43 211.5,90.64 215.5,91.86 219.5,96.29 223.5,104.79 227.5,113.29 231.5,119.71 235.5,125.43 239.5,132.14 243.5,139.29 247.5,148.00 251.5,157.64 255.5,166.07 259.5,173.00 263.5,177.79 267.5,181.79 271.5,187.93 275.5,196.64 279.5,203.50 283.5,209.64 287.5,213.50 291.5,217.21 295.5,220.71 299.5,224.79 303.5,229.50 307.5,231.64 311.5,235.57 315.5,238.93 319.5,245.79 323.5,253.07 327.5,260.79 331.5,264.71 335.5,270.64 339.5,276.57 343.5,283.79 347.5,290.21 351.5,294.14 355.5,299.14 359.5,302.64 363.5,306.57 367.5,310.93 371.5,315.93 375.5,317.79 379.5,318.00 383.5,316.00 387.5,310.07 391.5,301.14 395.5,292.43 399.5,284.07 403.5,275.00 407.5,267.14 411.5,259.21 415.5,252.14 419.5,246.29 423.5,238.79 427.5,230.71 431.5,222.93 435.5,216.79 439.5,211.21 443.5,207.64 447.5,205.50 451.5,202.29 455.5,200.86 459.5,200.86 463.5,200.71 467.5,201.57 471.5,201.29 475.5,200.00 479.5,197.14 483.5,195.50 487.5,196.36 491.5,196.00 495.5,194.71 499.5,194.14 503.5,189.43 507.5,189.71 511.5,191.93 515.5,192.86 519.5,194.50 523.5,194.14 527.5,194.21 531.5,195.57 535.5,197.14 539.5,197.14 543.5,195.07 547.5,194.86 551.5,194.71 555.5,195.29 559.5,199.71 563.5,199.21 567.5,196.71 571.5,193.57 575.5,190.21 579.5,188.86 583.5,188.21 587.5,187.14 591.5,186.71 595.5,188.93 599.5,190.86 603.5,193.14 607.5,195.71 611.5,198.36 615.5,202.21 619.5,206.43 623.5,208.71 627.5,212.71 631.5,217.29 635.5,221.07 639.5,223.71 643.5,227.07 647.5,232.36 651.5,233.29 655.5,232.86 659.5,230.14 663.5,226.93 667.5,224.71 671.5,222.21 675.5,220.64 679.5,220.86 683.5,219.71 687.5,217.00 691.5,216.21 695.5,217.29 699.5,216.00 703.5,214.07 707.5,213.86 711.5,215.86 715.5,219.57 719.5,222.14 723.5,223.71 727.5,227.14 731.5,230.07 735.5,232.50 739.5,236.50 743.5,246.64 747.5,252.14 751.5,255.86 755.5,262.29 759.5,268.93 763.5,276.36 767.5,281.86 771.5,287.21 775.5,292.14 779.5,297.86 783.5,300.50 787.5,304.71 791.5,308.50 795.5,311.50 799.5,310.21 803.5,310.79 807.5,310.14 811.5,309.36 815.5,309.14 819.5,308.86 823.5,309.21 827.5,310.57 831.5,313.36 835.5,313.93 839.5,315.14 843.5,315.29 847.5,315.36 851.5,316.14 855.5,315.21 859.5,315.43 863.5,318.57 867.5,320.57 871.5,321.57 875.5,322.36 879.5,323.86 883.5,324.86 887.5,328.21 891.5,329.50 895.5,331.07 899.5,332.86 903.5,335.14 907.5,336.50 911.5,338.43 915.5,338.36 919.5,336.86 923.5,336.36" fill="none" stroke="#ff0000" stroke-width="1" shape-rendering="crispEdges"/>
<g shape-rendering="crispEdges">
<rect x="2" y="262" width="6" height="6" fill="#00ff00"/><rect x="4" y="264" width="2" height="2" fill="#fff"/>
<rect x="1159" y="262" width="6" height="6" fill="#00ff00"/><rect x="1161" y="264" width="2" height="2" fill="#fff"/>
<rect x="2" y="335" width="6" height="6" fill="#0000ff"/><rect x="4" y="337" width="2" height="2" fill="#fff"/>
<rect x="1159" y="335" width="6" height="6" fill="#0000ff"/><rect x="1161" y="337" width="2" height="2" fill="#fff"/>
<rect x="2" y="390" width="6" height="6" fill="#0000ff"/><rect x="4" y="392" width="2" height="2" fill="#fff"/>
<rect x="1159" y="390" width="6" height="6" fill="#0000ff"/><rect x="1161" y="392" width="2" height="2" fill="#fff"/>
</g>
<g shape-rendering="crispEdges">
<rect x="1166" y="37" width="2" height="1" fill="#000"/>
<rect x="1166" y="70" width="2" height="1" fill="#000"/>
<rect x="1166" y="103" width="2" height="1" fill="#000"/>
<rect x="1166" y="136" width="2" height="1" fill="#000"/>
<rect x="1166" y="169" width="2" height="1" fill="#000"/>
<rect x="1166" y="202" width="2" height="1" fill="#000"/>
<rect x="1166" y="235" width="2" height="1" fill="#000"/>
<rect x="1166" y="268" width="2" height="1" fill="#000"/>
<rect x="1166" y="301" width="2" height="1" fill="#000"/>
<rect x="1166" y="334" width="2" height="1" fill="#000"/>
<rect x="1166" y="367" width="2" height="1" fill="#000"/>
<rect x="1166" y="400" width="2" height="1" fill="#000"/>
</g>
<text x="1170.5" y="41" font-size="10.0" fill="#000" textLength="33.5" lengthAdjust="spacingAndGlyphs">6.59120</text>
<text x="1170.5" y="74" font-size="10.0" fill="#000" textLength="33.5" lengthAdjust="spacingAndGlyphs">6.56670</text>
<text x="1170.5" y="107" font-size="10.0" fill="#000" textLength="33.5" lengthAdjust="spacingAndGlyphs">6.54290</text>
<text x="1170.5" y="140" font-size="10.0" fill="#000" textLength="33.5" lengthAdjust="spacingAndGlyphs">6.51840</text>
<text x="1170.5" y="173" font-size="10.0" fill="#000" textLength="33.5" lengthAdjust="spacingAndGlyphs">6.49460</text>
<text x="1170.5" y="206" font-size="10.0" fill="#000" textLength="33.5" lengthAdjust="spacingAndGlyphs">6.47010</text>
<text x="1170.5" y="239" font-size="10.0" fill="#000" textLength="33.5" lengthAdjust="spacingAndGlyphs">6.44560</text>
<text x="1170.5" y="272" font-size="10.0" fill="#000" textLength="33.5" lengthAdjust="spacingAndGlyphs">6.42180</text>
<text x="1170.5" y="305" font-size="10.0" fill="#000" textLength="33.5" lengthAdjust="spacingAndGlyphs">6.39730</text>
<text x="1170.5" y="338" font-size="10.0" fill="#000" textLength="33.5" lengthAdjust="spacingAndGlyphs">6.37350</text>
<text x="1170.5" y="371" font-size="10.0" fill="#000" textLength="33.5" lengthAdjust="spacingAndGlyphs">6.34900</text>
<text x="1170.5" y="404" font-size="10.0" fill="#000" textLength="33.5" lengthAdjust="spacingAndGlyphs">6.32520</text>
<rect x="1167" y="126" width="40" height="11" fill="#ff0000" shape-rendering="crispEdges"/><text x="1170.5" y="135" font-size="10.0" fill="#fff" textLength="33.5" lengthAdjust="spacingAndGlyphs">6.52126</text>
<rect x="1167" y="196" width="40" height="11" fill="#ff0000" shape-rendering="crispEdges"/><text x="1170.5" y="205" font-size="10.0" fill="#fff" textLength="33.5" lengthAdjust="spacingAndGlyphs">6.47044</text>
<rect x="1167" y="259" width="40" height="11" fill="#00ff00" shape-rendering="crispEdges"/><text x="1170.5" y="268" font-size="10.0" fill="#fff" textLength="33.5" lengthAdjust="spacingAndGlyphs">6.42424</text>
<rect x="1167" y="326" width="40" height="11" fill="#000000" shape-rendering="crispEdges"/><text x="1170.5" y="335" font-size="10.0" fill="#fff" textLength="33.5" lengthAdjust="spacingAndGlyphs">6.37540</text>
<rect x="1167" y="332" width="40" height="11" fill="#0000ff" shape-rendering="crispEdges"/><text x="1170.5" y="341" font-size="10.0" fill="#fff" textLength="33.5" lengthAdjust="spacingAndGlyphs">6.37063</text>
<rect x="1167" y="387" width="40" height="11" fill="#0000ff" shape-rendering="crispEdges"/><text x="1170.5" y="396" font-size="10.0" fill="#fff" textLength="33.5" lengthAdjust="spacingAndGlyphs">6.33041</text>
<path d="M6,35 L13,35 L9.5,31 Z" fill="#000"/>
<text x="17.8" y="36" font-size="10.0" fill="#000" textLength="70.2" lengthAdjust="spacingAndGlyphs">USDCNH-,Daily</text>
<text x="92.3" y="36" font-size="10.0" fill="#000" textLength="142.5" lengthAdjust="spacingAndGlyphs">6.38225 6.38391 6.37369 6.37540</text>
<g shape-rendering="crispEdges">
<rect x="6" y="44" width="219" height="57" fill="#fff"/>
<rect x="6" y="44" width="52" height="25" fill="url(#gbtn)"/>
<rect x="173" y="44" width="52" height="25" fill="url(#gbtn)"/>
<rect x="6" y="68" width="109" height="33" fill="url(#gprice)"/>
<rect x="117" y="68" width="108" height="33" fill="url(#gprice)"/>
<rect x="6" y="44" width="52" height="24" fill="url(#gbtn)"/>
<rect x="10" y="68" width="44" height="1" fill="#8c8cff"/><rect x="177" y="68" width="44" height="1" fill="#8c8cff"/>
<rect x="60" y="44" width="111" height="22" fill="#a8a8a8"/><rect x="61" y="45" width="109" height="20" fill="#fff"/>
<rect x="61" y="45" width="20" height="19" fill="url(#gspin)"/><rect x="81" y="45" width="1" height="20" fill="#b8b8b8"/>
<rect x="150" y="45" width="20" height="19" fill="url(#gspin)"/><rect x="149" y="45" width="1" height="20" fill="#b8b8b8"/>
</g>
<path d="M68,53 L74,53 L71,56 Z" fill="#4a5fb8"/><path d="M157,56 L163,56 L160,53 Z" fill="#4a5fb8"/>
<text x="121.8" y="59" font-size="12" fill="#000" textLength="23.5" lengthAdjust="spacingAndGlyphs">3.00</text>
<text x="18.2" y="60" font-size="11.2" fill="#f0f0ff" textLength="26" lengthAdjust="spacingAndGlyphs">SELL</text>
<text x="185.1" y="60" font-size="11.2" fill="#f0f0ff" textLength="24.5" lengthAdjust="spacingAndGlyphs">BUY</text>
<text x="25.8" y="95.5" font-size="11.2" fill="#fff" font-weight="bold" textLength="23.6" lengthAdjust="spacingAndGlyphs">6.37</text>
<text x="54.2" y="96" font-size="33" fill="#fff" textLength="34.2" lengthAdjust="spacingAndGlyphs" stroke="#1616d8" stroke-width="0.45">54</text>
<text x="92.6" y="80" font-size="11.2" fill="#fff" font-weight="bold" textLength="7.6" lengthAdjust="spacingAndGlyphs">0</text>
<text x="135.5" y="95.5" font-size="11.2" fill="#fff" font-weight="bold" textLength="23.6" lengthAdjust="spacingAndGlyphs">6.37</text>
<text x="164.2" y="96" font-size="33" fill="#fff" textLength="35.5" lengthAdjust="spacingAndGlyphs" stroke="#1616d8" stroke-width="0.45">94</text>
<text x="203.6" y="80" font-size="11.2" fill="#fff" font-weight="bold" textLength="7.6" lengthAdjust="spacingAndGlyphs">7</text>
<clipPath id="cmacd"><rect x="3" y="406" width="1162" height="68"/></clipPath>
<g clip-path="url(#cmacd)" shape-rendering="crispEdges">
<rect x="2" y="437" width="3" height="11" fill="#c0c0c0"/>
<rect x="6" y="437" width="3" height="12" fill="#c0c0c0"/>
<rect x="10" y="437" width="3" height="13" fill="#c0c0c0"/>
<rect x="14" y="437" width="3" height="12" fill="#c0c0c0"/>
<rect x="18" y="437" width="3" height="13" fill="#c0c0c0"/>
<rect x="22" y="437" width="3" height="14" fill="#c0c0c0"/>
<rect x="26" y="437" width="3" height="18" fill="#c0c0c0"/>
<rect x="30" y="437" width="3" height="19" fill="#c0c0c0"/>
<rect x="34" y="437" width="3" height="21" fill="#c0c0c0"/>
<rect x="38" y="437" width="3" height="22" fill="#c0c0c0"/>
<rect x="42" y="437" width="3" height="24" fill="#c0c0c0"/>
<rect x="46" y="437" width="3" height="23" fill="#c0c0c0"/>
<rect x="50" y="437" width="3" height="22" fill="#c0c0c0"/>
<rect x="54" y="437" width="3" height="18" fill="#c0c0c0"/>
<rect x="58" y="437" width="3" height="15" fill="#c0c0c0"/>
<rect x="62" y="437" width="3" height="12" fill="#c0c0c0"/>
<rect x="66" y="437" width="3" height="10" fill="#c0c0c0"/>
<rect x="70" y="437" width="3" height="9" fill="#c0c0c0"/>
<rect x="74" y="437" width="3" height="4" fill="#c0c0c0"/>
<rect x="78" y="437" width="3" height="1" fill="#c0c0c0"/>
<rect x="82" y="436" width="3" height="2" fill="#c0c0c0"/>
<rect x="86" y="435" width="3" height="3" fill="#c0c0c0"/>
<rect x="90" y="434" width="3" height="4" fill="#c0c0c0"/>
<rect x="94" y="432" width="3" height="6" fill="#c0c0c0"/>
<rect x="98" y="428" width="3" height="10" fill="#c0c0c0"/>
<rect x="102" y="422" width="3" height="16" fill="#c0c0c0"/>
<rect x="106" y="420" width="3" height="18" fill="#c0c0c0"/>
<rect x="110" y="421" width="3" height="17" fill="#c0c0c0"/>
<rect x="114" y="423" width="3" height="15" fill="#c0c0c0"/>
<rect x="118" y="423" width="3" height="15" fill="#c0c0c0"/>
<rect x="122" y="424" width="3" height="14" fill="#c0c0c0"/>
<rect x="126" y="424" width="3" height="14" fill="#c0c0c0"/>
<rect x="130" y="426" width="3" height="12" fill="#c0c0c0"/>
<rect x="134" y="425" width="3" height="13" fill="#c0c0c0"/>
<rect x="138" y="425" width="3" height="13" fill="#c0c0c0"/>
<rect x="142" y="425" width="3" height="13" fill="#c0c0c0"/>
<rect x="146" y="424" width="3" height="14" fill="#c0c0c0"/>
<rect x="150" y="422" width="3" height="16" fill="#c0c0c0"/>
<rect x="154" y="419" width="3" height="19" fill="#c0c0c0"/>
<rect x="158" y="418" width="3" height="20" fill="#c0c0c0"/>
<rect x="162" y="416" width="3" height="22" fill="#c0c0c0"/>
<rect x="166" y="412" width="3" height="26" fill="#c0c0c0"/>
<rect x="170" y="410" width="3" height="28" fill="#c0c0c0"/>
<rect x="174" y="410" width="3" height="28" fill="#c0c0c0"/>
<rect x="178" y="411" width="3" height="27" fill="#c0c0c0"/>
<rect x="182" y="413" width="3" height="25" fill="#c0c0c0"/>
<rect x="186" y="414" width="3" height="24" fill="#c0c0c0"/>
<rect x="190" y="414" width="3" height="24" fill="#c0c0c0"/>
<rect x="194" y="414" width="3" height="24" fill="#c0c0c0"/>
<rect x="198" y="415" width="3" height="23" fill="#c0c0c0"/>
<rect x="202" y="417" width="3" height="21" fill="#c0c0c0"/>
<rect x="206" y="420" width="3" height="18" fill="#c0c0c0"/>
<rect x="210" y="424" width="3" height="14" fill="#c0c0c0"/>
<rect x="214" y="426" width="3" height="12" fill="#c0c0c0"/>
<rect x="218" y="430" width="3" height="8" fill="#c0c0c0"/>
<rect x="222" y="435" width="3" height="3" fill="#c0c0c0"/>
<rect x="226" y="437" width="3" height="2" fill="#c0c0c0"/>
<rect x="230" y="437" width="3" height="5" fill="#c0c0c0"/>
<rect x="234" y="437" width="3" height="7" fill="#c0c0c0"/>
<rect x="238" y="437" width="3" height="11" fill="#c0c0c0"/>
<rect x="242" y="437" width="3" height="12" fill="#c0c0c0"/>
<rect x="246" y="437" width="3" height="14" fill="#c0c0c0"/>
<rect x="250" y="437" width="3" height="17" fill="#c0c0c0"/>
<rect x="254" y="437" width="3" height="17" fill="#c0c0c0"/>
<rect x="258" y="437" width="3" height="18" fill="#c0c0c0"/>
<rect x="262" y="437" width="3" height="17" fill="#c0c0c0"/>
<rect x="266" y="437" width="3" height="16" fill="#c0c0c0"/>
<rect x="270" y="437" width="3" height="17" fill="#c0c0c0"/>
<rect x="274" y="437" width="3" height="22" fill="#c0c0c0"/>
<rect x="278" y="437" width="3" height="25" fill="#c0c0c0"/>
<rect x="282" y="437" width="3" height="27" fill="#c0c0c0"/>
<rect x="286" y="437" width="3" height="25" fill="#c0c0c0"/>
<rect x="290" y="437" width="3" height="24" fill="#c0c0c0"/>
<rect x="294" y="437" width="3" height="24" fill="#c0c0c0"/>
<rect x="298" y="437" width="3" height="24" fill="#c0c0c0"/>
<rect x="302" y="437" width="3" height="25" fill="#c0c0c0"/>
<rect x="306" y="437" width="3" height="24" fill="#c0c0c0"/>
<rect x="310" y="437" width="3" height="23" fill="#c0c0c0"/>
<rect x="314" y="437" width="3" height="22" fill="#c0c0c0"/>
<rect x="318" y="437" width="3" height="24" fill="#c0c0c0"/>
<rect x="322" y="437" width="3" height="25" fill="#c0c0c0"/>
<rect x="326" y="437" width="3" height="27" fill="#c0c0c0"/>
<rect x="330" y="437" width="3" height="30" fill="#c0c0c0"/>
<rect x="334" y="437" width="3" height="33" fill="#c0c0c0"/>
<rect x="338" y="437" width="3" height="35" fill="#c0c0c0"/>
<rect x="342" y="437" width="3" height="34" fill="#c0c0c0"/>
<rect x="346" y="437" width="3" height="33" fill="#c0c0c0"/>
<rect x="350" y="437" width="3" height="31" fill="#c0c0c0"/>
<rect x="354" y="437" width="3" height="29" fill="#c0c0c0"/>
<rect x="358" y="437" width="3" height="28" fill="#c0c0c0"/>
<rect x="362" y="437" width="3" height="26" fill="#c0c0c0"/>
<rect x="366" y="437" width="3" height="24" fill="#c0c0c0"/>
<rect x="370" y="437" width="3" height="24" fill="#c0c0c0"/>
<rect x="374" y="437" width="3" height="22" fill="#c0c0c0"/>
<rect x="378" y="437" width="3" height="19" fill="#c0c0c0"/>
<rect x="382" y="437" width="3" height="17" fill="#c0c0c0"/>
<rect x="386" y="437" width="3" height="12" fill="#c0c0c0"/>
<rect x="390" y="437" width="3" height="6" fill="#c0c0c0"/>
<rect x="394" y="437" width="3" height="2" fill="#c0c0c0"/>
<rect x="398" y="433" width="3" height="5" fill="#c0c0c0"/>
<rect x="402" y="429" width="3" height="9" fill="#c0c0c0"/>
<rect x="406" y="425" width="3" height="13" fill="#c0c0c0"/>
<rect x="410" y="423" width="3" height="15" fill="#c0c0c0"/>
<rect x="414" y="422" width="3" height="16" fill="#c0c0c0"/>
<rect x="418" y="422" width="3" height="16" fill="#c0c0c0"/>
<rect x="422" y="422" width="3" height="16" fill="#c0c0c0"/>
<rect x="426" y="422" width="3" height="16" fill="#c0c0c0"/>
<rect x="430" y="421" width="3" height="17" fill="#c0c0c0"/>
<rect x="434" y="421" width="3" height="17" fill="#c0c0c0"/>
<rect x="438" y="422" width="3" height="16" fill="#c0c0c0"/>
<rect x="442" y="421" width="3" height="17" fill="#c0c0c0"/>
<rect x="446" y="421" width="3" height="17" fill="#c0c0c0"/>
<rect x="450" y="420" width="3" height="18" fill="#c0c0c0"/>
<rect x="454" y="420" width="3" height="18" fill="#c0c0c0"/>
<rect x="458" y="421" width="3" height="17" fill="#c0c0c0"/>
<rect x="462" y="421" width="3" height="17" fill="#c0c0c0"/>
<rect x="466" y="423" width="3" height="15" fill="#c0c0c0"/>
<rect x="470" y="425" width="3" height="13" fill="#c0c0c0"/>
<rect x="474" y="425" width="3" height="13" fill="#c0c0c0"/>
<rect x="478" y="424" width="3" height="14" fill="#c0c0c0"/>
<rect x="482" y="424" width="3" height="14" fill="#c0c0c0"/>
<rect x="486" y="426" width="3" height="12" fill="#c0c0c0"/>
<rect x="490" y="427" width="3" height="11" fill="#c0c0c0"/>
<rect x="494" y="427" width="3" height="11" fill="#c0c0c0"/>
<rect x="498" y="427" width="3" height="11" fill="#c0c0c0"/>
<rect x="502" y="424" width="3" height="14" fill="#c0c0c0"/>
<rect x="506" y="424" width="3" height="14" fill="#c0c0c0"/>
<rect x="510" y="427" width="3" height="11" fill="#c0c0c0"/>
<rect x="514" y="429" width="3" height="9" fill="#c0c0c0"/>
<rect x="518" y="431" width="3" height="7" fill="#c0c0c0"/>
<rect x="522" y="432" width="3" height="6" fill="#c0c0c0"/>
<rect x="526" y="434" width="3" height="4" fill="#c0c0c0"/>
<rect x="530" y="435" width="3" height="3" fill="#c0c0c0"/>
<rect x="534" y="435" width="3" height="3" fill="#c0c0c0"/>
<rect x="538" y="433" width="3" height="5" fill="#c0c0c0"/>
<rect x="542" y="433" width="3" height="5" fill="#c0c0c0"/>
<rect x="546" y="433" width="3" height="5" fill="#c0c0c0"/>
<rect x="550" y="433" width="3" height="5" fill="#c0c0c0"/>
<rect x="554" y="433" width="3" height="5" fill="#c0c0c0"/>
<rect x="558" y="433" width="3" height="5" fill="#c0c0c0"/>
<rect x="562" y="432" width="3" height="6" fill="#c0c0c0"/>
<rect x="566" y="432" width="3" height="6" fill="#c0c0c0"/>
<rect x="570" y="430" width="3" height="8" fill="#c0c0c0"/>
<rect x="574" y="429" width="3" height="9" fill="#c0c0c0"/>
<rect x="578" y="430" width="3" height="8" fill="#c0c0c0"/>
<rect x="582" y="432" width="3" height="6" fill="#c0c0c0"/>
<rect x="586" y="434" width="3" height="4" fill="#c0c0c0"/>
<rect x="590" y="434" width="3" height="4" fill="#c0c0c0"/>
<rect x="594" y="436" width="3" height="2" fill="#c0c0c0"/>
<rect x="598" y="437" width="3" height="1" fill="#c0c0c0"/>
<rect x="602" y="437" width="3" height="3" fill="#c0c0c0"/>
<rect x="606" y="437" width="3" height="5" fill="#c0c0c0"/>
<rect x="610" y="437" width="3" height="6" fill="#c0c0c0"/>
<rect x="614" y="437" width="3" height="8" fill="#c0c0c0"/>
<rect x="618" y="437" width="3" height="9" fill="#c0c0c0"/>
<rect x="622" y="437" width="3" height="8" fill="#c0c0c0"/>
<rect x="626" y="437" width="3" height="8" fill="#c0c0c0"/>
<rect x="630" y="437" width="3" height="8" fill="#c0c0c0"/>
<rect x="634" y="437" width="3" height="9" fill="#c0c0c0"/>
<rect x="638" y="437" width="3" height="10" fill="#c0c0c0"/>
<rect x="642" y="437" width="3" height="11" fill="#c0c0c0"/>
<rect x="646" y="437" width="3" height="12" fill="#c0c0c0"/>
<rect x="650" y="437" width="3" height="11" fill="#c0c0c0"/>
<rect x="654" y="437" width="3" height="8" fill="#c0c0c0"/>
<rect x="658" y="437" width="3" height="5" fill="#c0c0c0"/>
<rect x="662" y="437" width="3" height="2" fill="#c0c0c0"/>
<rect x="666" y="437" width="3" height="1" fill="#c0c0c0"/>
<rect x="670" y="437" width="3" height="1" fill="#c0c0c0"/>
<rect x="674" y="436" width="3" height="2" fill="#c0c0c0"/>
<rect x="678" y="437" width="3" height="1" fill="#c0c0c0"/>
<rect x="682" y="436" width="3" height="2" fill="#c0c0c0"/>
<rect x="686" y="435" width="3" height="3" fill="#c0c0c0"/>
<rect x="690" y="436" width="3" height="2" fill="#c0c0c0"/>
<rect x="694" y="437" width="3" height="3" fill="#c0c0c0"/>
<rect x="698" y="437" width="3" height="4" fill="#c0c0c0"/>
<rect x="702" y="437" width="3" height="4" fill="#c0c0c0"/>
<rect x="706" y="437" width="3" height="4" fill="#c0c0c0"/>
<rect x="710" y="437" width="3" height="4" fill="#c0c0c0"/>
<rect x="714" y="437" width="3" height="5" fill="#c0c0c0"/>
<rect x="718" y="437" width="3" height="4" fill="#c0c0c0"/>
<rect x="722" y="437" width="3" height="4" fill="#c0c0c0"/>
<rect x="726" y="437" width="3" height="6" fill="#c0c0c0"/>
<rect x="730" y="437" width="3" height="7" fill="#c0c0c0"/>
<rect x="734" y="437" width="3" height="8" fill="#c0c0c0"/>
<rect x="738" y="437" width="3" height="9" fill="#c0c0c0"/>
<rect x="742" y="437" width="3" height="15" fill="#c0c0c0"/>
<rect x="746" y="437" width="3" height="17" fill="#c0c0c0"/>
<rect x="750" y="437" width="3" height="19" fill="#c0c0c0"/>
<rect x="754" y="437" width="3" height="21" fill="#c0c0c0"/>
<rect x="758" y="437" width="3" height="23" fill="#c0c0c0"/>
<rect x="762" y="437" width="3" height="24" fill="#c0c0c0"/>
<rect x="766" y="437" width="3" height="24" fill="#c0c0c0"/>
<rect x="770" y="437" width="3" height="23" fill="#c0c0c0"/>
<rect x="774" y="437" width="3" height="21" fill="#c0c0c0"/>
<rect x="778" y="437" width="3" height="20" fill="#c0c0c0"/>
<rect x="782" y="437" width="3" height="19" fill="#c0c0c0"/>
<rect x="786" y="437" width="3" height="18" fill="#c0c0c0"/>
<rect x="790" y="437" width="3" height="17" fill="#c0c0c0"/>
<rect x="794" y="437" width="3" height="16" fill="#c0c0c0"/>
<rect x="798" y="437" width="3" height="16" fill="#c0c0c0"/>
<rect x="802" y="437" width="3" height="16" fill="#c0c0c0"/>
<rect x="806" y="437" width="3" height="14" fill="#c0c0c0"/>
<rect x="810" y="437" width="3" height="14" fill="#c0c0c0"/>
<rect x="814" y="437" width="3" height="14" fill="#c0c0c0"/>
<rect x="818" y="437" width="3" height="14" fill="#c0c0c0"/>
<rect x="822" y="437" width="3" height="13" fill="#c0c0c0"/>
<rect x="826" y="437" width="3" height="14" fill="#c0c0c0"/>
<rect x="830" y="437" width="3" height="14" fill="#c0c0c0"/>
<rect x="834" y="437" width="3" height="13" fill="#c0c0c0"/>
<rect x="838" y="437" width="3" height="12" fill="#c0c0c0"/>
<rect x="842" y="437" width="3" height="11" fill="#c0c0c0"/>
<rect x="846" y="437" width="3" height="9" fill="#c0c0c0"/>
<rect x="850" y="437" width="3" height="9" fill="#c0c0c0"/>
<rect x="854" y="437" width="3" height="7" fill="#c0c0c0"/>
<rect x="858" y="437" width="3" height="7" fill="#c0c0c0"/>
<rect x="862" y="437" width="3" height="9" fill="#c0c0c0"/>
<rect x="866" y="437" width="3" height="10" fill="#c0c0c0"/>
<rect x="870" y="437" width="3" height="10" fill="#c0c0c0"/>
<rect x="874" y="437" width="3" height="10" fill="#c0c0c0"/>
<rect x="878" y="437" width="3" height="10" fill="#c0c0c0"/>
<rect x="882" y="437" width="3" height="11" fill="#c0c0c0"/>
<rect x="886" y="437" width="3" height="13" fill="#c0c0c0"/>
<rect x="890" y="437" width="3" height="12" fill="#c0c0c0"/>
<rect x="894" y="437" width="3" height="11" fill="#c0c0c0"/>
<rect x="898" y="437" width="3" height="10" fill="#c0c0c0"/>
<rect x="902" y="437" width="3" height="10" fill="#c0c0c0"/>
<rect x="906" y="437" width="3" height="9" fill="#c0c0c0"/>
<rect x="910" y="437" width="3" height="8" fill="#c0c0c0"/>
<rect x="914" y="437" width="3" height="6" fill="#c0c0c0"/>
<rect x="918" y="437" width="3" height="5" fill="#c0c0c0"/>
<rect x="922" y="437" width="3" height="5" fill="#c0c0c0"/>
</g>
<polyline clip-path="url(#cmacd)" points="3.5,451.75 7.5,450.94 11.5,450.29 15.5,449.77 19.5,449.33 23.5,449.28 27.5,449.63 31.5,450.38 35.5,451.33 39.5,452.51 43.5,453.83 47.5,454.92 51.5,455.97 55.5,456.56 59.5,456.63 63.5,455.98 67.5,454.95 71.5,453.66 75.5,451.65 79.5,449.06 83.5,446.56 87.5,444.09 91.5,441.86 95.5,439.78 99.5,437.60 103.5,434.96 107.5,432.17 111.5,430.05 115.5,428.51 119.5,427.06 123.5,425.78 127.5,424.71 131.5,424.02 135.5,423.69 139.5,424.03 143.5,424.56 147.5,424.87 151.5,424.76 155.5,424.30 159.5,423.66 163.5,422.76 167.5,421.28 171.5,419.57 175.5,417.85 179.5,416.32 183.5,415.15 187.5,414.21 191.5,413.59 195.5,413.16 199.5,413.03 203.5,413.57 207.5,414.75 211.5,416.29 215.5,417.92 219.5,419.78 223.5,422.11 227.5,424.83 231.5,427.79 235.5,430.96 239.5,434.22 243.5,437.32 247.5,440.30 251.5,443.27 255.5,445.89 259.5,448.05 263.5,449.70 267.5,450.96 271.5,452.01 275.5,453.25 279.5,454.68 283.5,456.05 287.5,456.98 291.5,457.74 295.5,458.43 299.5,459.17 303.5,460.13 307.5,460.86 311.5,461.02 315.5,460.71 319.5,460.36 323.5,460.29 327.5,460.62 331.5,461.24 335.5,462.29 339.5,463.40 343.5,464.59 347.5,465.73 351.5,466.68 355.5,467.34 359.5,467.74 363.5,467.55 367.5,466.94 371.5,465.88 375.5,464.44 379.5,462.73 383.5,460.86 387.5,458.70 391.5,456.13 395.5,453.18 399.5,450.00 403.5,446.45 407.5,442.60 411.5,438.72 415.5,435.12 419.5,431.76 423.5,428.91 427.5,426.61 431.5,424.76 435.5,423.41 439.5,422.63 443.5,422.23 447.5,422.06 451.5,421.79 455.5,421.53 459.5,421.40 463.5,421.34 467.5,421.60 471.5,422.06 475.5,422.48 479.5,422.78 483.5,423.07 487.5,423.71 491.5,424.44 495.5,425.15 499.5,425.84 503.5,425.88 507.5,425.80 511.5,426.02 515.5,426.61 519.5,427.41 523.5,428.14 527.5,428.93 531.5,429.83 535.5,430.64 539.5,431.73 543.5,432.66 547.5,433.26 551.5,433.65 555.5,433.87 559.5,433.97 563.5,433.79 567.5,433.42 571.5,432.96 575.5,432.52 579.5,432.29 583.5,432.24 587.5,432.33 591.5,432.38 595.5,432.63 599.5,433.14 603.5,433.91 607.5,435.04 611.5,436.46 615.5,438.02 619.5,439.45 623.5,440.63 627.5,441.78 631.5,442.74 635.5,443.70 639.5,444.49 643.5,445.18 647.5,445.83 651.5,446.09 655.5,445.96 659.5,445.55 663.5,444.86 667.5,444.02 671.5,443.06 675.5,442.01 679.5,440.89 683.5,439.55 687.5,438.20 691.5,437.35 695.5,437.21 699.5,437.45 703.5,437.88 707.5,438.29 711.5,438.74 715.5,439.25 719.5,439.74 723.5,440.34 727.5,441.00 731.5,441.43 735.5,441.88 739.5,442.38 743.5,443.54 747.5,444.97 751.5,446.52 755.5,448.40 759.5,450.52 763.5,452.53 767.5,454.36 771.5,456.07 775.5,457.41 779.5,458.01 783.5,458.15 787.5,458.04 791.5,457.60 795.5,456.84 799.5,455.92 803.5,455.06 807.5,454.06 811.5,453.25 815.5,452.58 819.5,452.07 823.5,451.52 827.5,451.14 831.5,450.88 835.5,450.49 839.5,450.02 843.5,449.60 847.5,449.11 851.5,448.50 855.5,447.74 859.5,447.07 863.5,446.51 867.5,446.05 871.5,445.77 875.5,445.61 879.5,445.54 883.5,445.71 887.5,446.21 891.5,446.71 895.5,447.12 899.5,447.29 903.5,447.30 907.5,447.15 911.5,446.88 915.5,446.45 919.5,445.81 923.5,444.89" fill="none" stroke="#ff0000" stroke-width="1" shape-rendering="crispEdges"/>
<g shape-rendering="crispEdges"><rect x="1166" y="407" width="2" height="1" fill="#000"/><rect x="1166" y="437" width="2" height="1" fill="#000"/><rect x="1166" y="473" width="2" height="1" fill="#000"/></g>
<text x="1169" y="415" font-size="10.0" fill="#000" textLength="33" lengthAdjust="spacingAndGlyphs">0.02607</text>
<text x="1169" y="441" font-size="10.0" fill="#000" textLength="18" lengthAdjust="spacingAndGlyphs">0.00</text>
<text x="1169" y="471" font-size="10.0" fill="#000">-0.03187</text>
<text x="6.5" y="418" font-size="10.0" fill="#000" textLength="156" lengthAdjust="spacingAndGlyphs">MACD(12,26,9) -0.003512 -0.006493</text>
<g shape-rendering="crispEdges">
<line x1="4" y1="498.5" x2="1165" y2="498.5" stroke="#c0c0c0" stroke-width="1" stroke-dasharray="3,3"/>
<line x1="4" y1="526.5" x2="1165" y2="526.5" stroke="#c0c0c0" stroke-width="1" stroke-dasharray="3,3"/>
<rect x="1166" y="478" width="2" height="1" fill="#000"/><rect x="1166" y="498" width="2" height="1" fill="#000"/><rect x="1166" y="526" width="2" height="1" fill="#000"/><rect x="1166" y="547" width="2" height="1" fill="#000"/>
</g>
<clipPath id="crsi"><rect x="3" y="477" width="1162" height="71"/></clipPath>
<polyline clip-path="url(#crsi)" points="3.5,514.29 7.5,517.06 11.5,517.60 15.5,514.54 19.5,516.64 23.5,518.83 27.5,522.39 31.5,520.40 35.5,521.27 39.5,521.27 43.5,523.48 47.5,517.19 51.5,516.89 55.5,512.03 59.5,511.64 63.5,511.36 67.5,512.73 71.5,514.81 75.5,505.65 79.5,508.41 83.5,511.99 87.5,510.68 91.5,509.60 95.5,508.17 99.5,504.59 103.5,500.57 107.5,506.25 111.5,509.54 115.5,512.55 119.5,509.83 123.5,509.95 127.5,509.73 131.5,511.99 135.5,508.83 139.5,509.39 143.5,509.03 147.5,506.30 151.5,505.50 155.5,502.63 159.5,504.59 163.5,502.78 167.5,499.53 171.5,499.53 175.5,504.05 179.5,507.59 183.5,508.08 187.5,505.96 191.5,505.00 195.5,505.00 199.5,505.63 203.5,510.35 207.5,512.64 211.5,514.17 215.5,513.61 219.5,518.19 223.5,521.20 227.5,521.20 231.5,520.06 235.5,521.68 239.5,523.98 243.5,521.29 247.5,523.24 251.5,524.92 255.5,521.43 259.5,521.87 263.5,517.78 267.5,517.32 271.5,521.70 275.5,528.69 279.5,527.78 283.5,525.49 287.5,518.14 291.5,519.28 295.5,521.01 299.5,520.41 303.5,523.21 307.5,518.68 311.5,520.10 315.5,519.11 319.5,523.07 323.5,523.52 327.5,526.89 331.5,527.88 335.5,529.88 339.5,527.62 343.5,523.56 347.5,523.14 351.5,518.89 355.5,520.45 359.5,520.72 363.5,517.22 367.5,519.67 371.5,520.23 375.5,517.65 379.5,513.91 383.5,514.27 387.5,506.98 391.5,504.63 395.5,503.75 399.5,502.04 403.5,500.65 407.5,500.19 411.5,502.87 415.5,506.08 419.5,506.08 423.5,505.10 427.5,504.45 431.5,503.13 435.5,504.28 439.5,507.11 443.5,504.15 447.5,504.74 451.5,501.05 455.5,504.25 459.5,506.47 463.5,505.33 467.5,511.72 471.5,511.28 475.5,508.33 479.5,503.46 483.5,506.72 487.5,512.53 491.5,510.15 495.5,509.61 499.5,508.50 503.5,500.55 507.5,509.64 511.5,515.01 515.5,513.58 519.5,514.13 523.5,513.66 527.5,514.28 531.5,514.93 535.5,510.65 539.5,509.25 543.5,508.93 547.5,511.49 551.5,511.13 555.5,511.96 559.5,511.54 563.5,507.47 567.5,509.81 571.5,506.40 575.5,506.65 579.5,512.36 583.5,515.09 587.5,514.65 591.5,511.26 595.5,516.63 599.5,515.35 603.5,518.46 607.5,518.79 611.5,519.65 615.5,522.11 619.5,518.05 623.5,514.24 627.5,515.21 631.5,516.94 635.5,519.47 639.5,518.95 643.5,520.41 647.5,522.32 651.5,514.09 655.5,509.33 659.5,507.02 663.5,506.22 667.5,510.40 671.5,512.60 675.5,512.01 679.5,513.67 683.5,510.77 687.5,508.30 691.5,516.28 695.5,519.83 699.5,515.09 703.5,515.40 707.5,513.73 711.5,514.78 715.5,516.51 719.5,512.39 723.5,513.33 727.5,519.32 731.5,517.31 735.5,517.47 739.5,518.76 743.5,527.30 747.5,522.61 751.5,522.42 755.5,523.83 759.5,524.37 763.5,524.59 767.5,519.98 771.5,521.06 775.5,515.71 779.5,518.04 783.5,516.89 787.5,518.68 791.5,517.64 795.5,516.99 799.5,519.14 803.5,519.47 807.5,515.29 811.5,517.30 815.5,519.51 819.5,519.68 823.5,516.66 827.5,520.52 831.5,518.77 835.5,515.24 839.5,515.83 843.5,515.09 847.5,513.61 851.5,515.23 855.5,512.44 859.5,516.53 863.5,520.82 867.5,519.47 871.5,519.19 875.5,518.61 879.5,517.99 883.5,521.21 887.5,525.66 891.5,514.42 895.5,515.71 899.5,515.71 903.5,515.91 907.5,514.40 911.5,513.64 915.5,511.15 919.5,511.95 923.5,514.32" fill="none" stroke="#1e90ff" stroke-width="1" shape-rendering="crispEdges"/>
<text x="1169" y="487" font-size="10.0" fill="#000" textLength="15.2" lengthAdjust="spacingAndGlyphs">100</text>
<text x="1168.5" y="502" font-size="10.0" fill="#000" textLength="9.5" lengthAdjust="spacingAndGlyphs">70</text>
<text x="1168.5" y="530" font-size="10.0" fill="#000" textLength="9.5" lengthAdjust="spacingAndGlyphs">30</text>
<text x="1169" y="545" font-size="10.0" fill="#000">0</text>
<text x="6.5" y="489" font-size="10.0" fill="#000" textLength="69.6" lengthAdjust="spacingAndGlyphs">RSI(14) 47.4351</text>
<g shape-rendering="crispEdges">
<rect x="3" y="549" width="1" height="3" fill="#000"/>
<rect x="67" y="549" width="1" height="3" fill="#000"/>
<rect x="131" y="549" width="1" height="3" fill="#000"/>
<rect x="195" y="549" width="1" height="3" fill="#000"/>
<rect x="259" y="549" width="1" height="3" fill="#000"/>
<rect x="323" y="549" width="1" height="3" fill="#000"/>
<rect x="387" y="549" width="1" height="3" fill="#000"/>
<rect x="451" y="549" width="1" height="3" fill="#000"/>
<rect x="515" y="549" width="1" height="3" fill="#000"/>
<rect x="579" y="549" width="1" height="3" fill="#000"/>
<rect x="643" y="549" width="1" height="3" fill="#000"/>
<rect x="707" y="549" width="1" height="3" fill="#000"/>
<rect x="771" y="549" width="1" height="3" fill="#000"/>
<rect x="835" y="549" width="1" height="3" fill="#000"/>
<rect x="899" y="549" width="1" height="3" fill="#000"/>
</g>
<text x="2.4" y="561" font-size="10.0" fill="#000" textLength="47.4" lengthAdjust="spacingAndGlyphs" stroke="#000" stroke-width="0.12">1 Feb 2021</text>
<text x="66.4" y="561" font-size="10.0" fill="#000" textLength="52.599999999999994" lengthAdjust="spacingAndGlyphs" stroke="#000" stroke-width="0.12">23 Feb 2021</text>
<text x="130.4" y="561" font-size="10.0" fill="#000" textLength="53.0" lengthAdjust="spacingAndGlyphs" stroke="#000" stroke-width="0.12">17 Mar 2021</text>
<text x="194.4" y="561" font-size="10.0" fill="#000" textLength="46.599999999999994" lengthAdjust="spacingAndGlyphs" stroke="#000" stroke-width="0.12">9 Apr 2021</text>
<text x="258.4" y="561" font-size="10.0" fill="#000" textLength="51.199999999999996" lengthAdjust="spacingAndGlyphs" stroke="#000" stroke-width="0.12">3 May 2021</text>
<text x="322.4" y="561" font-size="10.0" fill="#000" textLength="55.599999999999994" lengthAdjust="spacingAndGlyphs" stroke="#000" stroke-width="0.12">25 May 2021</text>
<text x="386.4" y="561" font-size="10.0" fill="#000" textLength="51.099999999999994" lengthAdjust="spacingAndGlyphs" stroke="#000" stroke-width="0.12">16 Jun 2021</text>
<text x="450.4" y="561" font-size="10.0" fill="#000" textLength="43.4" lengthAdjust="spacingAndGlyphs" stroke="#000" stroke-width="0.12">8 Jul 2021</text>
<text x="514.4" y="561" font-size="10.0" fill="#000" textLength="47.4" lengthAdjust="spacingAndGlyphs" stroke="#000" stroke-width="0.12">30 Jul 2021</text>
<text x="578.4" y="561" font-size="10.0" fill="#000" textLength="53.8" lengthAdjust="spacingAndGlyphs" stroke="#000" stroke-width="0.12">23 Aug 2021</text>
<text x="642.4" y="561" font-size="10.0" fill="#000" textLength="52.4" lengthAdjust="spacingAndGlyphs" stroke="#000" stroke-width="0.12">14 Sep 2021</text>
<text x="706.4" y="561" font-size="10.0" fill="#000" textLength="46.8" lengthAdjust="spacingAndGlyphs" stroke="#000" stroke-width="0.12">6 Oct 2021</text>
<text x="770.4" y="561" font-size="10.0" fill="#000" textLength="51.599999999999994" lengthAdjust="spacingAndGlyphs" stroke="#000" stroke-width="0.12">28 Oct 2021</text>
<text x="834.4" y="561" font-size="10.0" fill="#000" textLength="54.5" lengthAdjust="spacingAndGlyphs" stroke="#000" stroke-width="0.12">19 Nov 2021</text>
<text x="898.4" y="561" font-size="10.0" fill="#000" textLength="52.4" lengthAdjust="spacingAndGlyphs" stroke="#000" stroke-width="0.12">13 Dec 2021</text>
<g shape-rendering="crispEdges">
<rect x="0" y="569" width="1204" height="1" fill="#dcdcdc"/>
<rect x="0" y="572" width="1204" height="23" fill="#f0f0f0"/>
<rect x="0" y="571" width="1204" height="1" fill="#000"/><rect x="0" y="572" width="1204" height="1" fill="#f8f8f8"/>
<rect x="0" y="591" width="1204" height="1" fill="#fafafa"/>
<rect x="0" y="595" width="1204" height="1" fill="#a8a8a8"/><rect x="0" y="596" width="1204" height="2" fill="#ffffff"/>
<rect x="524" y="570" width="112" height="20" fill="#000"/><rect x="525" y="570" width="110" height="19" fill="#fff"/>
</g>
<text x="14.2" y="586" font-size="12.4" fill="#6d6d6d" textLength="79" lengthAdjust="spacingAndGlyphs">USDX,Weekly</text>
<rect x="104" y="574" width="1" height="15" fill="#555" shape-rendering="crispEdges"/>
<text x="114.2" y="586" font-size="12.4" fill="#6d6d6d" textLength="86" lengthAdjust="spacingAndGlyphs">EURUSD-,Daily</text>
<rect x="212" y="574" width="1" height="15" fill="#555" shape-rendering="crispEdges"/>
<text x="221.2" y="586" font-size="12.4" fill="#6d6d6d" textLength="87.3" lengthAdjust="spacingAndGlyphs">AUDUSD-,Daily</text>
<rect x="320" y="574" width="1" height="15" fill="#555" shape-rendering="crispEdges"/>
<text x="331.4" y="586" font-size="12.4" fill="#6d6d6d" textLength="72.8" lengthAdjust="spacingAndGlyphs">USDCHF-,H4</text>
<rect x="417" y="574" width="1" height="15" fill="#555" shape-rendering="crispEdges"/>
<text x="426.4" y="586" font-size="12.4" fill="#6d6d6d" textLength="86.4" lengthAdjust="spacingAndGlyphs">USDCAD-,Daily</text>
<text x="535.2" y="586" font-size="12.4" fill="#000" textLength="89" lengthAdjust="spacingAndGlyphs">USDCNH-,Daily</text>
<text x="645.8000000000001" y="586" font-size="12.4" fill="#6d6d6d" textLength="87.4" lengthAdjust="spacingAndGlyphs">XAUUSD-,Daily</text>
<rect x="744" y="574" width="1" height="15" fill="#555" shape-rendering="crispEdges"/>
<text x="753.8000000000001" y="586" font-size="12.4" fill="#6d6d6d" textLength="83.1" lengthAdjust="spacingAndGlyphs">UKOil-,Weekly</text>
<rect x="848" y="574" width="1" height="15" fill="#555" shape-rendering="crispEdges"/>
<text x="859.2" y="586" font-size="12.4" fill="#6d6d6d" textLength="65" lengthAdjust="spacingAndGlyphs">DJ30-,Daily</text>
<rect x="936" y="574" width="1" height="15" fill="#555" shape-rendering="crispEdges"/>
<text x="946.5" y="586" font-size="12.4" fill="#6d6d6d" textLength="62.5" lengthAdjust="spacingAndGlyphs">UK100-,H1</text>
<rect x="1020" y="574" width="1" height="15" fill="#555" shape-rendering="crispEdges"/>
<path d="M1180.5,580 L1184.5,576.5 L1184.5,583.5 Z" fill="#8c8c8c"/><path d="M1200,576.5 L1204,580 L1200,583.5 Z" fill="#8c8c8c"/>
</svg></body></html>
